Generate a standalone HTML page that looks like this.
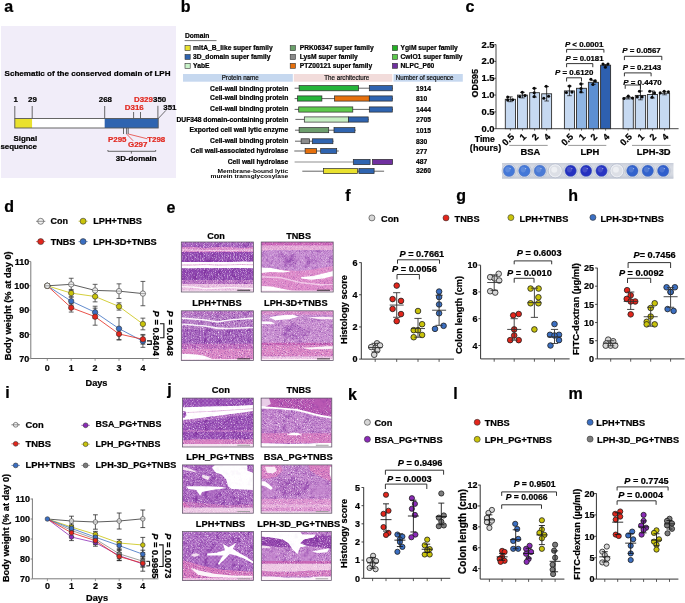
<!DOCTYPE html>
<html><head><meta charset="utf-8"><style>
html,body{margin:0;padding:0;background:#fff;width:685px;height:603px;overflow:hidden}
svg{display:block;will-change:transform;font-family:"Liberation Sans", sans-serif;font-weight:bold}
</style></head><body>
<svg width="685" height="603" viewBox="0 0 685 603">
<defs><filter id="speck" x="0" y="0" width="72" height="50" filterUnits="userSpaceOnUse" color-interpolation-filters="sRGB">
<feTurbulence type="fractalNoise" baseFrequency="1.0" numOctaves="2" seed="4" result="n"/>
<feTurbulence type="fractalNoise" baseFrequency="1.0" numOctaves="2" seed="11" result="n3"/>
<feTurbulence type="fractalNoise" baseFrequency="0.18" numOctaves="2" seed="9" result="n2"/>
<feColorMatrix in="n" type="matrix" values="0 0 0 0 1  0 0 0 0 0.96  0 0 0 0 1  2.6 0 0 0 -1.45" result="w"/>
<feColorMatrix in="n3" type="matrix" values="0 0 0 0 0.40  0 0 0 0 0.14  0 0 0 0 0.60  0 2.6 0 0 -1.35" result="dh"/>
<feColorMatrix in="n2" type="matrix" values="0 0 0 0 0.45  0 0 0 0 0.16  0 0 0 0 0.64  0 3.0 0 0 -1.55" result="d"/>
<feColorMatrix in="SourceGraphic" type="matrix" values="0 0 0 0 0  0 0 0 0 0  0 0 0 0 0  -6 0 6 0 0.05" result="mask"/>
<feColorMatrix in="SourceGraphic" type="matrix" values="0 0 0 0 0  0 0 0 0 0  0 0 0 0 0  -1 -1 -1 0 2.85" result="mask2"/>
<feComposite in="d" in2="mask" operator="in" result="d2"/>
<feComposite in="dh" in2="mask2" operator="in" result="dh2"/>
<feMerge result="m"><feMergeNode in="SourceGraphic"/><feMergeNode in="d2"/><feMergeNode in="dh2"/><feMergeNode in="w"/></feMerge>
<feColorMatrix in="m" type="hueRotate" values="6" result="m2"/>
<feComponentTransfer in="m2"><feFuncR type="linear" slope="0.97" intercept="0.03"/><feFuncG type="linear" slope="0.95" intercept="0.05"/><feFuncB type="linear" slope="0.97" intercept="0.03"/></feComponentTransfer>
</filter>
<pattern id="pdots" width="6" height="5" patternUnits="userSpaceOnUse">
<circle cx="1" cy="1" r="0.6" fill="#ffffff" opacity="0.45"/><circle cx="4" cy="3" r="0.5" fill="#ffffff" opacity="0.4"/><circle cx="2.5" cy="4" r="0.4" fill="#6a2a9a" opacity="0.3"/></pattern>
<pattern id="pdots2" width="4" height="4" patternUnits="userSpaceOnUse">
<circle cx="1" cy="1" r="0.7" fill="#ffffff" opacity="0.55"/><circle cx="3" cy="3" r="0.6" fill="#ffffff" opacity="0.5"/></pattern>
<pattern id="pcrypt" width="3" height="10" patternUnits="userSpaceOnUse">
<rect x="1" y="1" width="0.7" height="7" fill="#ffffff" opacity="0.25"/></pattern><linearGradient id="plategrad" x1="0" y1="0" x2="0" y2="1"><stop offset="0" stop-color="#bfc5d2" stop-opacity="0.6"/><stop offset="0.5" stop-color="#ffffff" stop-opacity="0"/><stop offset="1" stop-color="#aeb6c6" stop-opacity="0.6"/></linearGradient></defs>
<rect width="685" height="603" fill="#fff"/>
<text x="4.30" y="11.70" font-size="16" stroke="#000" stroke-width="0.22">a</text>
<text x="180.80" y="11.70" font-size="16" stroke="#000" stroke-width="0.22">b</text>
<text x="465.60" y="11.70" font-size="16" stroke="#000" stroke-width="0.22">c</text>
<text x="4.30" y="212.30" font-size="16" stroke="#000" stroke-width="0.22">d</text>
<text x="166.60" y="212.60" font-size="16" stroke="#000" stroke-width="0.22">e</text>
<text x="345.20" y="201.00" font-size="16" stroke="#000" stroke-width="0.22">f</text>
<text x="456.30" y="200.60" font-size="16" stroke="#000" stroke-width="0.22">g</text>
<text x="568.20" y="201.30" font-size="16" stroke="#000" stroke-width="0.22">h</text>
<text x="5.30" y="397.90" font-size="16" stroke="#000" stroke-width="0.22">i</text>
<text x="167.20" y="395.00" font-size="16" stroke="#000" stroke-width="0.22">j</text>
<text x="347.90" y="399.80" font-size="16" stroke="#000" stroke-width="0.22">k</text>
<text x="453.30" y="398.70" font-size="16" stroke="#000" stroke-width="0.22">l</text>
<text x="568.60" y="399.00" font-size="16" stroke="#000" stroke-width="0.22">m</text>
<rect x="1.00" y="26.00" width="175.00" height="152.00" fill="#f1edf9"/>
<text x="4.60" y="76.20" font-size="8.05" stroke="#000" stroke-width="0.22">Schematic of the conserved domain of LPH</text>
<text x="15.60" y="102.10" font-size="7.9" text-anchor="middle" stroke="#000" stroke-width="0.22">1</text>
<text x="32.40" y="102.10" font-size="7.9" text-anchor="middle" stroke="#000" stroke-width="0.22">29</text>
<text x="105.40" y="102.10" font-size="7.9" text-anchor="middle" stroke="#000" stroke-width="0.22">268</text>
<text x="134.00" y="102.10" font-size="7.9" fill="#e2281f" stroke="#e2281f" stroke-width="0.22">D329</text>
<text x="153.00" y="102.10" font-size="7.9" stroke="#000" stroke-width="0.22">350</text>
<text x="124.80" y="109.90" font-size="7.9" fill="#e2281f" stroke="#e2281f" stroke-width="0.22">D316</text>
<text x="163.30" y="109.80" font-size="7.9" stroke="#000" stroke-width="0.22">351</text>
<line x1="14.80" y1="106.00" x2="14.80" y2="118.50" stroke="#444" stroke-width="0.8"/>
<line x1="32.20" y1="106.00" x2="32.20" y2="118.50" stroke="#444" stroke-width="0.8"/>
<line x1="104.70" y1="106.00" x2="104.70" y2="118.50" stroke="#444" stroke-width="0.8"/>
<line x1="157.90" y1="105.80" x2="157.90" y2="118.50" stroke="#444" stroke-width="0.8"/>
<line x1="133.60" y1="112.00" x2="133.60" y2="118.50" stroke="#444" stroke-width="0.8"/>
<line x1="140.50" y1="112.00" x2="140.50" y2="118.50" stroke="#444" stroke-width="0.8"/>
<rect x="14.80" y="118.50" width="17.40" height="9.50" fill="#e9e12e"/>
<rect x="32.20" y="118.50" width="72.50" height="9.50" fill="#ffffff"/>
<rect x="104.70" y="118.50" width="53.50" height="9.50" fill="#2f64b0"/>
<rect x="14.80" y="118.50" width="143.40" height="9.50" fill="none" stroke="#555" stroke-width="0.9"/>
<line x1="158.20" y1="118.60" x2="166.00" y2="110.30" stroke="#333" stroke-width="0.7"/>
<line x1="123.50" y1="128.00" x2="123.50" y2="134.00" stroke="#444" stroke-width="0.8"/>
<line x1="126.60" y1="128.00" x2="126.60" y2="134.00" stroke="#444" stroke-width="0.8"/>
<line x1="128.20" y1="128.00" x2="128.20" y2="134.00" stroke="#444" stroke-width="0.8"/>
<line x1="126.60" y1="134.00" x2="133.20" y2="140.80" stroke="#e2281f" stroke-width="0.7"/>
<line x1="128.20" y1="134.00" x2="147.40" y2="138.80" stroke="#e2281f" stroke-width="0.7"/>
<text x="108.00" y="142.00" font-size="7.9" fill="#e2281f" stroke="#e2281f" stroke-width="0.22">P295</text>
<text x="128.00" y="147.40" font-size="7.9" fill="#e2281f" stroke="#e2281f" stroke-width="0.22">G297</text>
<text x="147.20" y="141.60" font-size="7.9" fill="#e2281f" stroke="#e2281f" stroke-width="0.22">T298</text>
<path d="M107.9,150.0 L107.9,151.3 L155.7,151.3 L155.7,150.0" stroke="#444" stroke-width="0.8" fill="none"/>
<line x1="131.40" y1="151.30" x2="131.40" y2="153.60" stroke="#444" stroke-width="0.8"/>
<text x="115.80" y="160.90" font-size="7.9" stroke="#000" stroke-width="0.22">3D-domain</text>
<text x="37.20" y="140.80" font-size="7.9" text-anchor="end" stroke="#000" stroke-width="0.22">Signal</text>
<text x="36.80" y="149.30" font-size="7.9" text-anchor="end" stroke="#000" stroke-width="0.22">sequence</text>
<text x="184.90" y="38.00" font-size="6.7" stroke="#000" stroke-width="0.22">Domain</text>
<line x1="184.60" y1="40.60" x2="216.50" y2="40.60" stroke="#666" stroke-width="0.9"/>
<rect x="185.00" y="45.60" width="5.20" height="5.00" fill="#e9e12e" stroke="#333" stroke-width="0.6"/>
<text x="193.10" y="50.40" font-size="6.7" stroke="#000" stroke-width="0.22">mltA_B_like super family</text>
<rect x="185.00" y="54.45" width="5.20" height="5.00" fill="#2f64b0" stroke="#333" stroke-width="0.6"/>
<text x="193.10" y="59.25" font-size="6.7" stroke="#000" stroke-width="0.22">3D_domain super family</text>
<rect x="185.00" y="63.30" width="5.20" height="5.00" fill="#c9f2c9" stroke="#333" stroke-width="0.6"/>
<text x="193.10" y="68.10" font-size="6.7" stroke="#000" stroke-width="0.22">YabE</text>
<rect x="290.20" y="45.60" width="5.20" height="5.00" fill="#6aa06a" stroke="#333" stroke-width="0.6"/>
<text x="299.70" y="50.40" font-size="6.7" stroke="#000" stroke-width="0.22">PRK06347 super family</text>
<rect x="290.20" y="54.45" width="5.20" height="5.00" fill="#8a8a8a" stroke="#333" stroke-width="0.6"/>
<text x="299.70" y="59.25" font-size="6.7" stroke="#000" stroke-width="0.22">LysM super family</text>
<rect x="290.20" y="63.30" width="5.20" height="5.00" fill="#e8700c" stroke="#333" stroke-width="0.6"/>
<text x="299.70" y="68.10" font-size="6.7" stroke="#000" stroke-width="0.22">PTZ00121 super family</text>
<rect x="392.40" y="45.60" width="5.20" height="5.00" fill="#23b023" stroke="#333" stroke-width="0.6"/>
<text x="400.50" y="50.40" font-size="6.7" stroke="#000" stroke-width="0.22">YgiM super family</text>
<rect x="392.40" y="54.45" width="5.20" height="5.00" fill="#5cc84c" stroke="#333" stroke-width="0.6"/>
<text x="400.50" y="59.25" font-size="6.7" stroke="#000" stroke-width="0.22">CwlO1 super family</text>
<rect x="392.40" y="63.30" width="5.20" height="5.00" fill="#7030a0" stroke="#333" stroke-width="0.6"/>
<text x="400.50" y="68.10" font-size="6.7" stroke="#000" stroke-width="0.22">NLPC_P60</text>
<rect x="183.00" y="74.00" width="109.80" height="7.70" fill="#c6d8ef"/>
<rect x="293.80" y="74.00" width="98.50" height="7.70" fill="#f2dcdb"/>
<rect x="393.50" y="74.00" width="69.30" height="7.70" fill="#c6d8ef"/>
<text x="221.70" y="79.70" font-size="6.9" fill="#111" font-weight="normal" textLength="37.0" lengthAdjust="spacingAndGlyphs" stroke="#111" stroke-width="0.22">Protein name</text>
<text x="324.30" y="79.70" font-size="6.9" fill="#111" font-weight="normal" textLength="45.0" lengthAdjust="spacingAndGlyphs" stroke="#111" stroke-width="0.22">The architecture</text>
<text x="395.80" y="79.90" font-size="6.9" fill="#111" font-weight="normal" textLength="57.6" lengthAdjust="spacingAndGlyphs" stroke="#111" stroke-width="0.22">Number of sequence</text>
<text x="288.30" y="90.50" font-size="6.74" text-anchor="end" stroke="#000" stroke-width="0.22">Cell-wall binding protein</text>
<text x="288.30" y="100.10" font-size="6.74" text-anchor="end" stroke="#000" stroke-width="0.22">Cell-wall binding protein</text>
<text x="288.30" y="111.20" font-size="6.74" text-anchor="end" stroke="#000" stroke-width="0.22">Cell-wall binding protein</text>
<text x="288.30" y="122.00" font-size="6.74" text-anchor="end" stroke="#000" stroke-width="0.22">DUF348 domain-containing protein</text>
<text x="288.30" y="132.40" font-size="6.74" text-anchor="end" stroke="#000" stroke-width="0.22">Exported cell wall lytic enzyme</text>
<text x="288.30" y="142.90" font-size="6.74" text-anchor="end" stroke="#000" stroke-width="0.22">Cell-wall binding protein</text>
<text x="288.30" y="153.00" font-size="6.74" text-anchor="end" stroke="#000" stroke-width="0.22">Cell wall-associated hydrolase</text>
<text x="288.30" y="163.50" font-size="6.74" text-anchor="end" stroke="#000" stroke-width="0.22">Cell wall hydrolase</text>
<g transform="translate(288.3,172.7) scale(1,0.86)"><text x="0" y="0" font-size="6.65" text-anchor="end">Membrane-bound lytic</text></g>
<g transform="translate(288.3,178.0) scale(1,0.86)"><text x="0" y="0" font-size="6.65" text-anchor="end">murein transglycosylase</text></g>
<text x="416.00" y="91.00" font-size="6.7" stroke="#000" stroke-width="0.22">1914</text>
<text x="416.00" y="100.90" font-size="6.7" stroke="#000" stroke-width="0.22">810</text>
<text x="416.00" y="111.70" font-size="6.7" stroke="#000" stroke-width="0.22">1444</text>
<text x="416.00" y="122.30" font-size="6.7" stroke="#000" stroke-width="0.22">2705</text>
<text x="416.00" y="132.50" font-size="6.7" stroke="#000" stroke-width="0.22">1015</text>
<text x="416.00" y="143.60" font-size="6.7" stroke="#000" stroke-width="0.22">830</text>
<text x="416.00" y="153.80" font-size="6.7" stroke="#000" stroke-width="0.22">277</text>
<text x="416.00" y="163.80" font-size="6.7" stroke="#000" stroke-width="0.22">487</text>
<text x="416.00" y="173.20" font-size="6.7" stroke="#000" stroke-width="0.22">3260</text>
<line x1="294.60" y1="88.20" x2="392.80" y2="88.20" stroke="#222" stroke-width="0.7"/>
<rect x="299.10" y="85.60" width="59.50" height="5.20" fill="#26b43a" stroke="#2a2a2a" stroke-width="0.7"/>
<rect x="369.30" y="85.60" width="23.00" height="5.20" fill="#2f64b0" stroke="#2a2a2a" stroke-width="0.7"/>
<line x1="294.60" y1="98.60" x2="392.80" y2="98.60" stroke="#222" stroke-width="0.7"/>
<rect x="297.50" y="95.90" width="24.40" height="5.20" fill="#26b43a" stroke="#2a2a2a" stroke-width="0.7"/>
<rect x="334.50" y="95.90" width="34.80" height="5.20" fill="#e6700c" stroke="#2a2a2a" stroke-width="0.7"/>
<rect x="369.30" y="95.90" width="23.00" height="5.20" fill="#2f64b0" stroke="#2a2a2a" stroke-width="0.7"/>
<line x1="294.60" y1="109.40" x2="392.80" y2="109.40" stroke="#222" stroke-width="0.7"/>
<rect x="298.70" y="106.90" width="54.10" height="5.20" fill="#5dc94c" stroke="#2a2a2a" stroke-width="0.7"/>
<rect x="369.30" y="106.90" width="23.00" height="5.20" fill="#2f64b0" stroke="#2a2a2a" stroke-width="0.7"/>
<line x1="295.40" y1="119.40" x2="368.60" y2="119.40" stroke="#222" stroke-width="0.7"/>
<rect x="304.30" y="116.90" width="44.10" height="5.20" fill="#c6efc4" stroke="#2a2a2a" stroke-width="0.7"/>
<rect x="348.40" y="116.90" width="19.80" height="5.20" fill="#2f64b0" stroke="#2a2a2a" stroke-width="0.7"/>
<line x1="295.00" y1="130.20" x2="355.80" y2="130.20" stroke="#222" stroke-width="0.7"/>
<rect x="299.10" y="127.60" width="29.60" height="5.10" fill="#6c9e6c" stroke="#2a2a2a" stroke-width="0.7"/>
<rect x="334.00" y="127.60" width="20.90" height="5.10" fill="#2f64b0" stroke="#2a2a2a" stroke-width="0.7"/>
<line x1="295.00" y1="141.20" x2="333.60" y2="141.20" stroke="#222" stroke-width="0.7"/>
<rect x="301.10" y="138.80" width="8.30" height="4.90" fill="#8c8c8c" stroke="#2a2a2a" stroke-width="0.7"/>
<rect x="312.30" y="138.80" width="20.60" height="4.90" fill="#2f64b0" stroke="#2a2a2a" stroke-width="0.7"/>
<line x1="294.30" y1="151.00" x2="338.80" y2="151.00" stroke="#222" stroke-width="0.7"/>
<rect x="305.10" y="148.60" width="11.50" height="4.90" fill="#e6700c" stroke="#2a2a2a" stroke-width="0.7"/>
<rect x="320.70" y="148.60" width="16.00" height="4.90" fill="#2f64b0" stroke="#2a2a2a" stroke-width="0.7"/>
<line x1="294.60" y1="162.00" x2="353.30" y2="162.00" stroke="#b4b4b4" stroke-width="1.3"/>
<rect x="353.30" y="159.40" width="16.80" height="5.20" fill="#2f64b0" stroke="#2a2a2a" stroke-width="0.7"/>
<rect x="372.50" y="159.40" width="20.10" height="5.20" fill="#7030a0" stroke="#2a2a2a" stroke-width="0.7"/>
<line x1="302.30" y1="171.20" x2="384.10" y2="171.20" stroke="#222" stroke-width="0.7"/>
<rect x="323.50" y="168.60" width="34.10" height="5.00" fill="#e9e12e" stroke="#2a2a2a" stroke-width="0.7"/>
<rect x="358.90" y="168.60" width="15.20" height="5.00" fill="#2f64b0" stroke="#2a2a2a" stroke-width="0.7"/>
<text x="474.80" y="83.30" font-size="9.0" text-anchor="middle" transform="rotate(-90 474.80 83.30)" stroke="#000" stroke-width="0.22" dominant-baseline="central">OD595</text>
<line x1="496.00" y1="44.40" x2="496.00" y2="128.70" stroke="#333" stroke-width="0.9"/>
<line x1="494.30" y1="44.60" x2="496.00" y2="44.60" stroke="#333" stroke-width="0.9"/>
<text x="494.60" y="47.50" font-size="9.4" text-anchor="end" stroke="#000" stroke-width="0.22">2.5</text>
<line x1="494.30" y1="61.42" x2="496.00" y2="61.42" stroke="#333" stroke-width="0.9"/>
<text x="494.60" y="64.32" font-size="9.4" text-anchor="end" stroke="#000" stroke-width="0.22">2.0</text>
<line x1="494.30" y1="78.24" x2="496.00" y2="78.24" stroke="#333" stroke-width="0.9"/>
<text x="494.60" y="81.14" font-size="9.4" text-anchor="end" stroke="#000" stroke-width="0.22">1.5</text>
<line x1="494.30" y1="95.06" x2="496.00" y2="95.06" stroke="#333" stroke-width="0.9"/>
<text x="494.60" y="97.96" font-size="9.4" text-anchor="end" stroke="#000" stroke-width="0.22">1.0</text>
<line x1="494.30" y1="111.88" x2="496.00" y2="111.88" stroke="#333" stroke-width="0.9"/>
<text x="494.60" y="114.78" font-size="9.4" text-anchor="end" stroke="#000" stroke-width="0.22">0.5</text>
<line x1="494.30" y1="128.70" x2="496.00" y2="128.70" stroke="#333" stroke-width="0.9"/>
<text x="494.60" y="131.60" font-size="9.4" text-anchor="end" stroke="#000" stroke-width="0.22">0.0</text>
<line x1="496.00" y1="128.70" x2="678.60" y2="128.70" stroke="#333" stroke-width="0.9"/>
<rect x="505.30" y="99.30" width="10.20" height="29.40" fill="#c6d9f1" stroke="#2e2e2e" stroke-width="0.9"/>
<line x1="510.40" y1="128.70" x2="510.40" y2="130.60" stroke="#333" stroke-width="0.8"/>
<line x1="510.40" y1="96.90" x2="510.40" y2="101.70" stroke="#111" stroke-width="0.8"/>
<line x1="508.10" y1="96.90" x2="512.70" y2="96.90" stroke="#111" stroke-width="0.8"/>
<line x1="508.10" y1="101.70" x2="512.70" y2="101.70" stroke="#111" stroke-width="0.7"/>
<circle cx="507.70" cy="97.10" r="1.55" fill="#0a0a0a"/>
<circle cx="507.70" cy="100.10" r="1.55" fill="#0a0a0a"/>
<circle cx="512.70" cy="99.70" r="1.55" fill="#0a0a0a"/>
<text x="512.80" y="135.20" font-size="9.2" text-anchor="end" transform="rotate(-45 512.80 135.20)" stroke="#000" stroke-width="0.22" dominant-baseline="central">0.5</text>
<rect x="517.50" y="95.10" width="9.90" height="33.60" fill="#c6d9f1" stroke="#2e2e2e" stroke-width="0.9"/>
<line x1="522.45" y1="128.70" x2="522.45" y2="130.60" stroke="#333" stroke-width="0.8"/>
<line x1="522.45" y1="92.30" x2="522.45" y2="97.90" stroke="#111" stroke-width="0.8"/>
<line x1="520.15" y1="92.30" x2="524.75" y2="92.30" stroke="#111" stroke-width="0.8"/>
<line x1="520.15" y1="97.90" x2="524.75" y2="97.90" stroke="#111" stroke-width="0.7"/>
<circle cx="522.30" cy="92.30" r="1.55" fill="#0a0a0a"/>
<circle cx="519.70" cy="96.60" r="1.55" fill="#0a0a0a"/>
<circle cx="525.00" cy="95.60" r="1.55" fill="#0a0a0a"/>
<text x="524.85" y="135.20" font-size="9.2" text-anchor="end" transform="rotate(-45 524.85 135.20)" stroke="#000" stroke-width="0.22" dominant-baseline="central">1</text>
<rect x="529.70" y="92.70" width="9.80" height="36.00" fill="#c6d9f1" stroke="#2e2e2e" stroke-width="0.9"/>
<line x1="534.60" y1="128.70" x2="534.60" y2="130.60" stroke="#333" stroke-width="0.8"/>
<line x1="534.60" y1="88.30" x2="534.60" y2="97.10" stroke="#111" stroke-width="0.8"/>
<line x1="532.30" y1="88.30" x2="536.90" y2="88.30" stroke="#111" stroke-width="0.8"/>
<line x1="532.30" y1="97.10" x2="536.90" y2="97.10" stroke="#111" stroke-width="0.7"/>
<circle cx="534.20" cy="88.30" r="1.55" fill="#0a0a0a"/>
<circle cx="534.20" cy="92.70" r="1.55" fill="#0a0a0a"/>
<circle cx="534.20" cy="96.60" r="1.55" fill="#0a0a0a"/>
<text x="537.00" y="135.20" font-size="9.2" text-anchor="end" transform="rotate(-45 537.00 135.20)" stroke="#000" stroke-width="0.22" dominant-baseline="central">2</text>
<rect x="541.70" y="93.80" width="9.90" height="34.90" fill="#c6d9f1" stroke="#2e2e2e" stroke-width="0.9"/>
<line x1="546.65" y1="128.70" x2="546.65" y2="130.60" stroke="#333" stroke-width="0.8"/>
<line x1="546.65" y1="86.60" x2="546.65" y2="101.00" stroke="#111" stroke-width="0.8"/>
<line x1="544.35" y1="86.60" x2="548.95" y2="86.60" stroke="#111" stroke-width="0.8"/>
<line x1="544.35" y1="101.00" x2="548.95" y2="101.00" stroke="#111" stroke-width="0.7"/>
<circle cx="546.20" cy="86.30" r="1.55" fill="#0a0a0a"/>
<circle cx="543.80" cy="98.20" r="1.55" fill="#0a0a0a"/>
<circle cx="548.60" cy="96.20" r="1.55" fill="#0a0a0a"/>
<text x="549.05" y="135.20" font-size="9.2" text-anchor="end" transform="rotate(-45 549.05 135.20)" stroke="#000" stroke-width="0.22" dominant-baseline="central">4</text>
<rect x="564.40" y="90.90" width="10.10" height="37.80" fill="#c6d9f1" stroke="#2e2e2e" stroke-width="0.9"/>
<line x1="569.45" y1="128.70" x2="569.45" y2="130.60" stroke="#333" stroke-width="0.8"/>
<line x1="569.45" y1="86.10" x2="569.45" y2="95.70" stroke="#111" stroke-width="0.8"/>
<line x1="567.15" y1="86.10" x2="571.75" y2="86.10" stroke="#111" stroke-width="0.8"/>
<line x1="567.15" y1="95.70" x2="571.75" y2="95.70" stroke="#111" stroke-width="0.7"/>
<circle cx="569.50" cy="86.10" r="1.55" fill="#0a0a0a"/>
<circle cx="566.40" cy="92.50" r="1.55" fill="#0a0a0a"/>
<circle cx="572.00" cy="92.10" r="1.55" fill="#0a0a0a"/>
<text x="571.85" y="135.20" font-size="9.2" text-anchor="end" transform="rotate(-45 571.85 135.20)" stroke="#000" stroke-width="0.22" dominant-baseline="central">0.5</text>
<rect x="576.50" y="88.30" width="10.00" height="40.40" fill="#8fb5e3" stroke="#2e2e2e" stroke-width="0.9"/>
<line x1="581.50" y1="128.70" x2="581.50" y2="130.60" stroke="#333" stroke-width="0.8"/>
<line x1="581.50" y1="83.90" x2="581.50" y2="92.70" stroke="#111" stroke-width="0.8"/>
<line x1="579.20" y1="83.90" x2="583.80" y2="83.90" stroke="#111" stroke-width="0.8"/>
<line x1="579.20" y1="92.70" x2="583.80" y2="92.70" stroke="#111" stroke-width="0.7"/>
<circle cx="581.00" cy="83.90" r="1.55" fill="#0a0a0a"/>
<circle cx="581.00" cy="88.50" r="1.55" fill="#0a0a0a"/>
<circle cx="581.00" cy="91.70" r="1.55" fill="#0a0a0a"/>
<text x="583.90" y="135.20" font-size="9.2" text-anchor="end" transform="rotate(-45 583.90 135.20)" stroke="#000" stroke-width="0.22" dominant-baseline="central">1</text>
<rect x="588.40" y="82.30" width="10.10" height="46.40" fill="#5d8fd2" stroke="#2e2e2e" stroke-width="0.9"/>
<line x1="593.45" y1="128.70" x2="593.45" y2="130.60" stroke="#333" stroke-width="0.8"/>
<line x1="593.45" y1="80.30" x2="593.45" y2="84.30" stroke="#111" stroke-width="0.8"/>
<line x1="591.15" y1="80.30" x2="595.75" y2="80.30" stroke="#111" stroke-width="0.8"/>
<line x1="591.15" y1="84.30" x2="595.75" y2="84.30" stroke="#111" stroke-width="0.7"/>
<circle cx="590.90" cy="79.30" r="1.55" fill="#0a0a0a"/>
<circle cx="595.30" cy="80.90" r="1.55" fill="#0a0a0a"/>
<circle cx="592.90" cy="84.50" r="1.55" fill="#0a0a0a"/>
<text x="595.85" y="135.20" font-size="9.2" text-anchor="end" transform="rotate(-45 595.85 135.20)" stroke="#000" stroke-width="0.22" dominant-baseline="central">2</text>
<rect x="600.60" y="65.20" width="10.00" height="63.50" fill="#2e60b0" stroke="#2e2e2e" stroke-width="0.9"/>
<line x1="605.60" y1="128.70" x2="605.60" y2="130.60" stroke="#333" stroke-width="0.8"/>
<line x1="605.60" y1="64.60" x2="605.60" y2="65.80" stroke="#111" stroke-width="0.8"/>
<line x1="603.30" y1="64.60" x2="607.90" y2="64.60" stroke="#111" stroke-width="0.8"/>
<line x1="603.30" y1="65.80" x2="607.90" y2="65.80" stroke="#111" stroke-width="0.7"/>
<circle cx="603.00" cy="64.00" r="1.55" fill="#0a0a0a"/>
<circle cx="608.00" cy="64.00" r="1.55" fill="#0a0a0a"/>
<circle cx="605.40" cy="67.20" r="1.55" fill="#0a0a0a"/>
<text x="608.00" y="135.20" font-size="9.2" text-anchor="end" transform="rotate(-45 608.00 135.20)" stroke="#000" stroke-width="0.22" dominant-baseline="central">4</text>
<rect x="623.10" y="97.80" width="10.20" height="30.90" fill="#c6d9f1" stroke="#2e2e2e" stroke-width="0.9"/>
<line x1="628.20" y1="128.70" x2="628.20" y2="130.60" stroke="#333" stroke-width="0.8"/>
<line x1="628.20" y1="96.60" x2="628.20" y2="99.00" stroke="#111" stroke-width="0.8"/>
<line x1="625.90" y1="96.60" x2="630.50" y2="96.60" stroke="#111" stroke-width="0.8"/>
<line x1="625.90" y1="99.00" x2="630.50" y2="99.00" stroke="#111" stroke-width="0.7"/>
<circle cx="624.00" cy="98.50" r="1.55" fill="#0a0a0a"/>
<circle cx="628.30" cy="96.10" r="1.55" fill="#0a0a0a"/>
<circle cx="632.50" cy="98.10" r="1.55" fill="#0a0a0a"/>
<text x="630.60" y="135.20" font-size="9.2" text-anchor="end" transform="rotate(-45 630.60 135.20)" stroke="#000" stroke-width="0.22" dominant-baseline="central">0.5</text>
<rect x="635.30" y="95.40" width="10.30" height="33.30" fill="#c6d9f1" stroke="#2e2e2e" stroke-width="0.9"/>
<line x1="640.45" y1="128.70" x2="640.45" y2="130.60" stroke="#333" stroke-width="0.8"/>
<line x1="640.45" y1="91.00" x2="640.45" y2="99.80" stroke="#111" stroke-width="0.8"/>
<line x1="638.15" y1="91.00" x2="642.75" y2="91.00" stroke="#111" stroke-width="0.8"/>
<line x1="638.15" y1="99.80" x2="642.75" y2="99.80" stroke="#111" stroke-width="0.7"/>
<circle cx="637.30" cy="96.90" r="1.55" fill="#0a0a0a"/>
<circle cx="639.50" cy="91.30" r="1.55" fill="#0a0a0a"/>
<circle cx="642.10" cy="96.90" r="1.55" fill="#0a0a0a"/>
<text x="642.85" y="135.20" font-size="9.2" text-anchor="end" transform="rotate(-45 642.85 135.20)" stroke="#000" stroke-width="0.22" dominant-baseline="central">1</text>
<rect x="647.40" y="94.50" width="10.10" height="34.20" fill="#c6d9f1" stroke="#2e2e2e" stroke-width="0.9"/>
<line x1="652.45" y1="128.70" x2="652.45" y2="130.60" stroke="#333" stroke-width="0.8"/>
<line x1="652.45" y1="91.00" x2="652.45" y2="98.00" stroke="#111" stroke-width="0.8"/>
<line x1="650.15" y1="91.00" x2="654.75" y2="91.00" stroke="#111" stroke-width="0.8"/>
<line x1="650.15" y1="98.00" x2="654.75" y2="98.00" stroke="#111" stroke-width="0.7"/>
<circle cx="649.70" cy="91.30" r="1.55" fill="#0a0a0a"/>
<circle cx="654.50" cy="92.90" r="1.55" fill="#0a0a0a"/>
<circle cx="652.10" cy="97.30" r="1.55" fill="#0a0a0a"/>
<text x="654.85" y="135.20" font-size="9.2" text-anchor="end" transform="rotate(-45 654.85 135.20)" stroke="#000" stroke-width="0.22" dominant-baseline="central">2</text>
<rect x="659.50" y="93.30" width="10.10" height="35.40" fill="#c6d9f1" stroke="#2e2e2e" stroke-width="0.9"/>
<line x1="664.55" y1="128.70" x2="664.55" y2="130.60" stroke="#333" stroke-width="0.8"/>
<line x1="664.55" y1="91.80" x2="664.55" y2="94.80" stroke="#111" stroke-width="0.8"/>
<line x1="662.25" y1="91.80" x2="666.85" y2="91.80" stroke="#111" stroke-width="0.8"/>
<line x1="662.25" y1="94.80" x2="666.85" y2="94.80" stroke="#111" stroke-width="0.7"/>
<circle cx="660.20" cy="92.90" r="1.55" fill="#0a0a0a"/>
<circle cx="664.20" cy="91.30" r="1.55" fill="#0a0a0a"/>
<circle cx="668.40" cy="91.70" r="1.55" fill="#0a0a0a"/>
<text x="666.95" y="135.20" font-size="9.2" text-anchor="end" transform="rotate(-45 666.95 135.20)" stroke="#000" stroke-width="0.22" dominant-baseline="central">4</text>
<text x="494.70" y="141.70" font-size="8.6" text-anchor="end" stroke="#000" stroke-width="0.22">Time</text>
<text x="501.20" y="150.50" font-size="9.1" text-anchor="end" stroke="#000" stroke-width="0.22">(hours)</text>
<line x1="509.20" y1="145.40" x2="547.70" y2="145.40" stroke="#9a9a9a" stroke-width="1.0"/>
<line x1="568.20" y1="145.40" x2="606.30" y2="145.40" stroke="#9a9a9a" stroke-width="1.0"/>
<line x1="632.00" y1="145.40" x2="670.60" y2="145.40" stroke="#9a9a9a" stroke-width="1.0"/>
<text x="530.50" y="154.50" font-size="9.4" text-anchor="middle" stroke="#000" stroke-width="0.22">BSA</text>
<text x="589.90" y="154.50" font-size="9.4" text-anchor="middle" stroke="#000" stroke-width="0.22">LPH</text>
<text x="653.70" y="154.50" font-size="9.4" text-anchor="middle" stroke="#000" stroke-width="0.22">LPH-3D</text>
<path d="M566.60,52.60 L566.60,49.40 L603.90,49.40 L603.90,52.60" stroke="#1e1e1e" stroke-width="0.9" fill="none"/>
<text x="564.90" y="47.40" font-size="7.9" stroke="#000" stroke-width="0.22"><tspan font-style="italic">P</tspan> &lt; 0.0001</text>
<path d="M566.60,67.20 L566.60,63.60 L592.80,63.60 L592.80,67.20" stroke="#1e1e1e" stroke-width="0.9" fill="none"/>
<text x="565.60" y="61.20" font-size="7.8" stroke="#000" stroke-width="0.22"><tspan font-style="italic">P</tspan> = 0.0181</text>
<path d="M566.60,81.50 L566.60,77.80 L581.50,77.80 L581.50,81.50" stroke="#1e1e1e" stroke-width="0.9" fill="none"/>
<text x="555.00" y="74.80" font-size="7.9" stroke="#000" stroke-width="0.22"><tspan font-style="italic">P</tspan> = 0.6120</text>
<path d="M624.40,60.10 L624.40,56.30 L661.80,56.30 L661.80,60.10" stroke="#1e1e1e" stroke-width="0.9" fill="none"/>
<text x="622.30" y="53.30" font-size="7.9" stroke="#000" stroke-width="0.22"><tspan font-style="italic">P</tspan> = 0.0567</text>
<path d="M624.40,76.30 L624.40,72.90 L651.10,72.90 L651.10,76.30" stroke="#1e1e1e" stroke-width="0.9" fill="none"/>
<text x="622.80" y="69.90" font-size="7.9" stroke="#000" stroke-width="0.22"><tspan font-style="italic">P</tspan> = 0.2143</text>
<path d="M625.20,88.80 L625.20,85.00 L640.45,85.00 L640.45,88.80" stroke="#1e1e1e" stroke-width="0.9" fill="none"/>
<line x1="640.45" y1="85.00" x2="640.45" y2="91.00" stroke="#222" stroke-width="0.8"/>
<text x="623.30" y="84.50" font-size="7.9" stroke="#000" stroke-width="0.22"><tspan font-style="italic">P</tspan> = 0.4470</text>
<rect x="502.00" y="163.00" width="171.40" height="15.60" fill="#d3d7e0"/>
<rect x="502" y="163" width="171.4" height="15.6" fill="url(#plategrad)"/>
<circle cx="509.00" cy="170.80" r="7.0" fill="#eef0f5" stroke="#aab2c4" stroke-width="0.6"/>
<circle cx="509.00" cy="170.80" r="5.8" fill="#4478d8" stroke="#5a78b8" stroke-width="0.5"/>
<ellipse cx="507.80" cy="169.60" rx="2.6" ry="2.8" fill="#ffffff" opacity="0.14"/>
<circle cx="510.20" cy="168.60" r="0.7" fill="#ffffff" opacity="0.5"/>
<circle cx="524.42" cy="170.80" r="7.0" fill="#eef0f5" stroke="#aab2c4" stroke-width="0.6"/>
<circle cx="524.42" cy="170.80" r="5.8" fill="#4478d8" stroke="#5a78b8" stroke-width="0.5"/>
<ellipse cx="523.22" cy="169.60" rx="2.6" ry="2.8" fill="#ffffff" opacity="0.14"/>
<circle cx="525.62" cy="168.60" r="0.7" fill="#ffffff" opacity="0.5"/>
<circle cx="539.84" cy="170.80" r="7.0" fill="#eef0f5" stroke="#aab2c4" stroke-width="0.6"/>
<circle cx="539.84" cy="170.80" r="5.8" fill="#4a7ad6" stroke="#5a78b8" stroke-width="0.5"/>
<ellipse cx="538.64" cy="169.60" rx="2.6" ry="2.8" fill="#ffffff" opacity="0.14"/>
<circle cx="541.04" cy="168.60" r="0.7" fill="#ffffff" opacity="0.5"/>
<circle cx="555.26" cy="170.80" r="7.0" fill="#eef0f5" stroke="#aab2c4" stroke-width="0.6"/>
<circle cx="555.26" cy="170.80" r="5.6" fill="#dcdfe6" stroke="none" stroke-width="0"/>
<ellipse cx="554.26" cy="169.8" rx="3" ry="3" fill="#f4f5f8" opacity="0.7"/>
<circle cx="570.68" cy="170.80" r="7.0" fill="#eef0f5" stroke="#aab2c4" stroke-width="0.6"/>
<circle cx="570.68" cy="170.80" r="5.8" fill="#2430bf" stroke="#5a78b8" stroke-width="0.5"/>
<ellipse cx="569.48" cy="169.60" rx="2.6" ry="2.8" fill="#ffffff" opacity="0.14"/>
<circle cx="571.88" cy="168.60" r="0.7" fill="#ffffff" opacity="0.5"/>
<circle cx="586.10" cy="170.80" r="7.0" fill="#eef0f5" stroke="#aab2c4" stroke-width="0.6"/>
<circle cx="586.10" cy="170.80" r="5.8" fill="#2430bf" stroke="#5a78b8" stroke-width="0.5"/>
<ellipse cx="584.90" cy="169.60" rx="2.6" ry="2.8" fill="#ffffff" opacity="0.14"/>
<circle cx="587.30" cy="168.60" r="0.7" fill="#ffffff" opacity="0.5"/>
<circle cx="601.52" cy="170.80" r="7.0" fill="#eef0f5" stroke="#aab2c4" stroke-width="0.6"/>
<circle cx="601.52" cy="170.80" r="5.8" fill="#2834c2" stroke="#5a78b8" stroke-width="0.5"/>
<ellipse cx="600.32" cy="169.60" rx="2.6" ry="2.8" fill="#ffffff" opacity="0.14"/>
<circle cx="602.72" cy="168.60" r="0.7" fill="#ffffff" opacity="0.5"/>
<circle cx="616.94" cy="170.80" r="7.0" fill="#eef0f5" stroke="#aab2c4" stroke-width="0.6"/>
<circle cx="616.94" cy="170.80" r="5.6" fill="#dcdfe6" stroke="none" stroke-width="0"/>
<ellipse cx="615.94" cy="169.8" rx="3" ry="3" fill="#f4f5f8" opacity="0.7"/>
<circle cx="632.36" cy="170.80" r="7.0" fill="#eef0f5" stroke="#aab2c4" stroke-width="0.6"/>
<circle cx="632.36" cy="170.80" r="5.8" fill="#3262cc" stroke="#5a78b8" stroke-width="0.5"/>
<ellipse cx="631.16" cy="169.60" rx="2.6" ry="2.8" fill="#ffffff" opacity="0.14"/>
<circle cx="633.56" cy="168.60" r="0.7" fill="#ffffff" opacity="0.5"/>
<circle cx="647.78" cy="170.80" r="7.0" fill="#eef0f5" stroke="#aab2c4" stroke-width="0.6"/>
<circle cx="647.78" cy="170.80" r="5.8" fill="#3262cc" stroke="#5a78b8" stroke-width="0.5"/>
<ellipse cx="646.58" cy="169.60" rx="2.6" ry="2.8" fill="#ffffff" opacity="0.14"/>
<circle cx="648.98" cy="168.60" r="0.7" fill="#ffffff" opacity="0.5"/>
<circle cx="663.20" cy="170.80" r="7.0" fill="#eef0f5" stroke="#aab2c4" stroke-width="0.6"/>
<circle cx="663.20" cy="170.80" r="5.8" fill="#2f5ecc" stroke="#5a78b8" stroke-width="0.5"/>
<ellipse cx="662.00" cy="169.60" rx="2.6" ry="2.8" fill="#ffffff" opacity="0.14"/>
<circle cx="664.40" cy="168.60" r="0.7" fill="#ffffff" opacity="0.5"/>
<line x1="36.10" y1="221.30" x2="45.30" y2="221.30" stroke="#555" stroke-width="0.7"/>
<circle cx="40.70" cy="221.30" r="3.0" fill="#f2f2f2" stroke="#555" stroke-width="0.7"/>
<line x1="37.70" y1="221.30" x2="43.70" y2="221.30" stroke="#555" stroke-width="0.6"/>
<text x="50.40" y="224.30" font-size="9.0" stroke="#000" stroke-width="0.22">Con</text>
<line x1="36.10" y1="241.60" x2="45.30" y2="241.60" stroke="#e3261c" stroke-width="0.7"/>
<circle cx="40.70" cy="241.60" r="3.0" fill="#e3261c" stroke="#333" stroke-width="0.6"/>
<text x="50.80" y="244.70" font-size="9.0" stroke="#000" stroke-width="0.22">TNBS</text>
<line x1="78.50" y1="221.20" x2="87.70" y2="221.20" stroke="#c9c30a" stroke-width="0.7"/>
<circle cx="83.10" cy="221.20" r="3.0" fill="#c9c30a" stroke="#333" stroke-width="0.6"/>
<text x="93.20" y="224.30" font-size="9.2" stroke="#000" stroke-width="0.22">LPH+TNBS</text>
<line x1="78.50" y1="241.60" x2="87.70" y2="241.60" stroke="#3b6fc2" stroke-width="0.7"/>
<circle cx="83.10" cy="241.60" r="3.0" fill="#3b6fc2" stroke="#333" stroke-width="0.6"/>
<text x="93.20" y="244.70" font-size="9.2" stroke="#000" stroke-width="0.22">LPH-3D+TNBS</text>
<line x1="30.80" y1="261.60" x2="30.80" y2="358.50" stroke="#7a7a7a" stroke-width="1.0"/>
<line x1="29.00" y1="261.48" x2="30.80" y2="261.48" stroke="#7a7a7a" stroke-width="0.9"/>
<text x="29.30" y="264.78" font-size="9.0" text-anchor="end" stroke="#000" stroke-width="0.22">110</text>
<line x1="29.00" y1="285.80" x2="30.80" y2="285.80" stroke="#7a7a7a" stroke-width="0.9"/>
<text x="29.30" y="289.10" font-size="9.0" text-anchor="end" stroke="#000" stroke-width="0.22">100</text>
<line x1="29.00" y1="310.12" x2="30.80" y2="310.12" stroke="#7a7a7a" stroke-width="0.9"/>
<text x="29.30" y="313.42" font-size="9.0" text-anchor="end" stroke="#000" stroke-width="0.22">90</text>
<line x1="29.00" y1="334.44" x2="30.80" y2="334.44" stroke="#7a7a7a" stroke-width="0.9"/>
<text x="29.30" y="337.74" font-size="9.0" text-anchor="end" stroke="#000" stroke-width="0.22">80</text>
<line x1="29.00" y1="358.76" x2="30.80" y2="358.76" stroke="#7a7a7a" stroke-width="0.9"/>
<text x="29.30" y="362.06" font-size="9.0" text-anchor="end" stroke="#000" stroke-width="0.22">70</text>
<line x1="30.80" y1="358.50" x2="158.80" y2="358.50" stroke="#7a7a7a" stroke-width="1.0"/>
<line x1="47.30" y1="358.50" x2="47.30" y2="360.80" stroke="#7a7a7a" stroke-width="0.8"/>
<text x="47.30" y="371.40" font-size="9.0" text-anchor="middle" stroke="#000" stroke-width="0.22">0</text>
<line x1="71.20" y1="358.50" x2="71.20" y2="360.80" stroke="#7a7a7a" stroke-width="0.8"/>
<text x="71.20" y="371.40" font-size="9.0" text-anchor="middle" stroke="#000" stroke-width="0.22">1</text>
<line x1="95.10" y1="358.50" x2="95.10" y2="360.80" stroke="#7a7a7a" stroke-width="0.8"/>
<text x="95.10" y="371.40" font-size="9.0" text-anchor="middle" stroke="#000" stroke-width="0.22">2</text>
<line x1="119.00" y1="358.50" x2="119.00" y2="360.80" stroke="#7a7a7a" stroke-width="0.8"/>
<text x="119.00" y="371.40" font-size="9.0" text-anchor="middle" stroke="#000" stroke-width="0.22">3</text>
<line x1="142.90" y1="358.50" x2="142.90" y2="360.80" stroke="#7a7a7a" stroke-width="0.8"/>
<text x="142.90" y="371.40" font-size="9.0" text-anchor="middle" stroke="#000" stroke-width="0.22">4</text>
<text x="96.50" y="385.50" font-size="9.2" text-anchor="middle" stroke="#000" stroke-width="0.22">Days</text>
<text x="8.20" y="305.80" font-size="9.25" text-anchor="middle" transform="rotate(-90 8.20 305.80)" stroke="#000" stroke-width="0.22" dominant-baseline="central">Body weight (% at day 0)</text>
<polyline points="47.30,285.80 71.20,301.12 95.10,312.31 119.00,328.60 142.90,341.25" fill="none" stroke="#3b6fc2" stroke-width="0.8"/>
<polyline points="47.30,285.80 71.20,307.69 95.10,316.69 119.00,333.95 142.90,339.30" fill="none" stroke="#e3261c" stroke-width="0.8"/>
<polyline points="47.30,285.80 71.20,293.10 95.10,296.50 119.00,306.47 142.90,323.98" fill="none" stroke="#c9c30a" stroke-width="0.8"/>
<polyline points="47.30,285.80 71.20,284.34 95.10,290.42 119.00,291.15 142.90,293.58" fill="none" stroke="#333" stroke-width="0.8"/>
<line x1="71.20" y1="297.23" x2="71.20" y2="305.01" stroke="#3a3a3a" stroke-width="0.8"/>
<line x1="68.80" y1="297.23" x2="73.60" y2="297.23" stroke="#3a3a3a" stroke-width="0.8"/>
<line x1="68.80" y1="305.01" x2="73.60" y2="305.01" stroke="#3a3a3a" stroke-width="0.8"/>
<line x1="95.10" y1="306.23" x2="95.10" y2="318.39" stroke="#3a3a3a" stroke-width="0.8"/>
<line x1="92.70" y1="306.23" x2="97.50" y2="306.23" stroke="#3a3a3a" stroke-width="0.8"/>
<line x1="92.70" y1="318.39" x2="97.50" y2="318.39" stroke="#3a3a3a" stroke-width="0.8"/>
<line x1="119.00" y1="317.66" x2="119.00" y2="339.55" stroke="#3a3a3a" stroke-width="0.8"/>
<line x1="116.60" y1="317.66" x2="121.40" y2="317.66" stroke="#3a3a3a" stroke-width="0.8"/>
<line x1="116.60" y1="339.55" x2="121.40" y2="339.55" stroke="#3a3a3a" stroke-width="0.8"/>
<line x1="142.90" y1="335.17" x2="142.90" y2="347.33" stroke="#3a3a3a" stroke-width="0.8"/>
<line x1="140.50" y1="335.17" x2="145.30" y2="335.17" stroke="#3a3a3a" stroke-width="0.8"/>
<line x1="140.50" y1="347.33" x2="145.30" y2="347.33" stroke="#3a3a3a" stroke-width="0.8"/>
<line x1="71.20" y1="303.31" x2="71.20" y2="312.07" stroke="#3a3a3a" stroke-width="0.8"/>
<line x1="68.80" y1="303.31" x2="73.60" y2="303.31" stroke="#3a3a3a" stroke-width="0.8"/>
<line x1="68.80" y1="312.07" x2="73.60" y2="312.07" stroke="#3a3a3a" stroke-width="0.8"/>
<line x1="95.10" y1="308.17" x2="95.10" y2="325.20" stroke="#3a3a3a" stroke-width="0.8"/>
<line x1="92.70" y1="308.17" x2="97.50" y2="308.17" stroke="#3a3a3a" stroke-width="0.8"/>
<line x1="92.70" y1="325.20" x2="97.50" y2="325.20" stroke="#3a3a3a" stroke-width="0.8"/>
<line x1="119.00" y1="327.87" x2="119.00" y2="340.03" stroke="#3a3a3a" stroke-width="0.8"/>
<line x1="116.60" y1="327.87" x2="121.40" y2="327.87" stroke="#3a3a3a" stroke-width="0.8"/>
<line x1="116.60" y1="340.03" x2="121.40" y2="340.03" stroke="#3a3a3a" stroke-width="0.8"/>
<line x1="142.90" y1="334.44" x2="142.90" y2="344.17" stroke="#3a3a3a" stroke-width="0.8"/>
<line x1="140.50" y1="334.44" x2="145.30" y2="334.44" stroke="#3a3a3a" stroke-width="0.8"/>
<line x1="140.50" y1="344.17" x2="145.30" y2="344.17" stroke="#3a3a3a" stroke-width="0.8"/>
<line x1="71.20" y1="289.45" x2="71.20" y2="296.74" stroke="#3a3a3a" stroke-width="0.8"/>
<line x1="68.80" y1="289.45" x2="73.60" y2="289.45" stroke="#3a3a3a" stroke-width="0.8"/>
<line x1="68.80" y1="296.74" x2="73.60" y2="296.74" stroke="#3a3a3a" stroke-width="0.8"/>
<line x1="95.10" y1="291.15" x2="95.10" y2="301.85" stroke="#3a3a3a" stroke-width="0.8"/>
<line x1="92.70" y1="291.15" x2="97.50" y2="291.15" stroke="#3a3a3a" stroke-width="0.8"/>
<line x1="92.70" y1="301.85" x2="97.50" y2="301.85" stroke="#3a3a3a" stroke-width="0.8"/>
<line x1="119.00" y1="302.82" x2="119.00" y2="310.12" stroke="#3a3a3a" stroke-width="0.8"/>
<line x1="116.60" y1="302.82" x2="121.40" y2="302.82" stroke="#3a3a3a" stroke-width="0.8"/>
<line x1="116.60" y1="310.12" x2="121.40" y2="310.12" stroke="#3a3a3a" stroke-width="0.8"/>
<line x1="142.90" y1="318.15" x2="142.90" y2="329.82" stroke="#3a3a3a" stroke-width="0.8"/>
<line x1="140.50" y1="318.15" x2="145.30" y2="318.15" stroke="#3a3a3a" stroke-width="0.8"/>
<line x1="140.50" y1="329.82" x2="145.30" y2="329.82" stroke="#3a3a3a" stroke-width="0.8"/>
<line x1="71.20" y1="278.26" x2="71.20" y2="290.42" stroke="#3a3a3a" stroke-width="0.8"/>
<line x1="68.80" y1="278.26" x2="73.60" y2="278.26" stroke="#3a3a3a" stroke-width="0.8"/>
<line x1="68.80" y1="290.42" x2="73.60" y2="290.42" stroke="#3a3a3a" stroke-width="0.8"/>
<line x1="95.10" y1="284.34" x2="95.10" y2="296.50" stroke="#3a3a3a" stroke-width="0.8"/>
<line x1="92.70" y1="284.34" x2="97.50" y2="284.34" stroke="#3a3a3a" stroke-width="0.8"/>
<line x1="92.70" y1="296.50" x2="97.50" y2="296.50" stroke="#3a3a3a" stroke-width="0.8"/>
<line x1="119.00" y1="283.85" x2="119.00" y2="298.45" stroke="#3a3a3a" stroke-width="0.8"/>
<line x1="116.60" y1="283.85" x2="121.40" y2="283.85" stroke="#3a3a3a" stroke-width="0.8"/>
<line x1="116.60" y1="298.45" x2="121.40" y2="298.45" stroke="#3a3a3a" stroke-width="0.8"/>
<line x1="142.90" y1="281.42" x2="142.90" y2="305.74" stroke="#3a3a3a" stroke-width="0.8"/>
<line x1="140.50" y1="281.42" x2="145.30" y2="281.42" stroke="#3a3a3a" stroke-width="0.8"/>
<line x1="140.50" y1="305.74" x2="145.30" y2="305.74" stroke="#3a3a3a" stroke-width="0.8"/>
<circle cx="47.30" cy="285.80" r="2.7" fill="#3b6fc2" stroke="#333" stroke-width="0.6"/>
<circle cx="71.20" cy="301.12" r="2.7" fill="#3b6fc2" stroke="#333" stroke-width="0.6"/>
<circle cx="95.10" cy="312.31" r="2.7" fill="#3b6fc2" stroke="#333" stroke-width="0.6"/>
<circle cx="119.00" cy="328.60" r="2.7" fill="#3b6fc2" stroke="#333" stroke-width="0.6"/>
<circle cx="142.90" cy="341.25" r="2.7" fill="#3b6fc2" stroke="#333" stroke-width="0.6"/>
<circle cx="47.30" cy="285.80" r="2.7" fill="#e3261c" stroke="#333" stroke-width="0.6"/>
<circle cx="71.20" cy="307.69" r="2.7" fill="#e3261c" stroke="#333" stroke-width="0.6"/>
<circle cx="95.10" cy="316.69" r="2.7" fill="#e3261c" stroke="#333" stroke-width="0.6"/>
<circle cx="119.00" cy="333.95" r="2.7" fill="#e3261c" stroke="#333" stroke-width="0.6"/>
<circle cx="142.90" cy="339.30" r="2.7" fill="#e3261c" stroke="#333" stroke-width="0.6"/>
<circle cx="47.30" cy="285.80" r="2.7" fill="#c9c30a" stroke="#333" stroke-width="0.6"/>
<circle cx="71.20" cy="293.10" r="2.7" fill="#c9c30a" stroke="#333" stroke-width="0.6"/>
<circle cx="95.10" cy="296.50" r="2.7" fill="#c9c30a" stroke="#333" stroke-width="0.6"/>
<circle cx="119.00" cy="306.47" r="2.7" fill="#c9c30a" stroke="#333" stroke-width="0.6"/>
<circle cx="142.90" cy="323.98" r="2.7" fill="#c9c30a" stroke="#333" stroke-width="0.6"/>
<circle cx="47.30" cy="285.80" r="2.7" fill="#efefef" stroke="#555" stroke-width="0.7"/>
<line x1="44.60" y1="285.80" x2="50.00" y2="285.80" stroke="#555" stroke-width="0.5"/>
<circle cx="71.20" cy="284.34" r="2.7" fill="#efefef" stroke="#555" stroke-width="0.7"/>
<line x1="68.50" y1="284.34" x2="73.90" y2="284.34" stroke="#555" stroke-width="0.5"/>
<circle cx="95.10" cy="290.42" r="2.7" fill="#efefef" stroke="#555" stroke-width="0.7"/>
<line x1="92.40" y1="290.42" x2="97.80" y2="290.42" stroke="#555" stroke-width="0.5"/>
<circle cx="119.00" cy="291.15" r="2.7" fill="#efefef" stroke="#555" stroke-width="0.7"/>
<line x1="116.30" y1="291.15" x2="121.70" y2="291.15" stroke="#555" stroke-width="0.5"/>
<circle cx="142.90" cy="293.58" r="2.7" fill="#efefef" stroke="#555" stroke-width="0.7"/>
<line x1="140.20" y1="293.58" x2="145.60" y2="293.58" stroke="#555" stroke-width="0.5"/>
<text x="170.00" y="310.60" font-size="9.3" transform="rotate(90 170.00 310.60)" stroke="#000" stroke-width="0.22" dominant-baseline="central"><tspan font-style="italic">P</tspan> = 0.0048</text>
<text x="156.30" y="310.60" font-size="9.3" transform="rotate(90 156.30 310.60)" stroke="#000" stroke-width="0.22" dominant-baseline="central"><tspan font-style="italic">P</tspan> = 0.8404</text>
<path d="M160.0,323.8 L163.9,323.8 L163.9,337.7 L160.0,337.7" stroke="#111" stroke-width="1.1" fill="none"/>
<path d="M147.0,340.8 L151.3,340.8 L151.3,344.4 L147.0,344.4" stroke="#111" stroke-width="1.2" fill="none"/>
<text x="216.10" y="239.40" font-size="9.1" text-anchor="middle" stroke="#000" stroke-width="0.22">Con</text>
<text x="298.60" y="239.40" font-size="9.1" text-anchor="middle" stroke="#000" stroke-width="0.22">TNBS</text>
<text x="217.00" y="306.20" font-size="9.3" text-anchor="middle" stroke="#000" stroke-width="0.22">LPH+TNBS</text>
<text x="295.80" y="306.20" font-size="9.2" text-anchor="middle" stroke="#000" stroke-width="0.22">LPH-3D+TNBS</text>
<clipPath id="hc1"><rect x="0" y="0" width="72" height="50"/></clipPath>
<g transform="translate(181.30,242.00) scale(1.0028,1.0000)" clip-path="url(#hc1)"><g filter="url(#speck)">
<rect x="0" y="0" width="72" height="50" fill="#a262c6"/>
<rect x="0" y="0" width="72" height="50" fill="url(#pdots)"/>
<path d="M0.0,5.0 L12.0,5.0 L24.0,6.0 L36.0,5.0 L48.0,5.0 L60.0,6.0 L72.0,5.0 L72.0,10.0 L60.0,10.0 L48.0,10.0 L36.0,10.0 L24.0,10.5 L12.0,10.0 L0.0,10.0 Z" fill="#d88ad0"/>
<path d="M0.0,7.5 L12.0,7.8 L24.0,8.0 L36.0,8.2 L48.0,8.0 L60.0,7.8 L72.0,7.6 L72.0,8.4 L60.0,8.6 L48.0,8.8 L36.0,9.0 L24.0,8.8 L12.0,8.6 L0.0,8.3 Z" fill="#f2d8ef"/>
<path d="M0.0,10.0 L12.0,10.0 L24.0,10.5 L36.0,10.0 L48.0,10.0 L60.0,10.0 L72.0,10.0 L72.0,19.5 L60.0,19.5 L48.0,20.0 L36.0,20.0 L24.0,20.0 L12.0,20.0 L0.0,20.0 Z" fill="#8642b6"/><path d="M0.0,10.0 L12.0,10.0 L24.0,10.5 L36.0,10.0 L48.0,10.0 L60.0,10.0 L72.0,10.0 L72.0,19.5 L60.0,19.5 L48.0,20.0 L36.0,20.0 L24.0,20.0 L12.0,20.0 L0.0,20.0 Z" fill="url(#pcrypt)"/>
<path d="M0.0,20.0 L12.0,20.0 L24.0,20.0 L36.0,20.0 L48.0,20.0 L60.0,19.5 L72.0,19.5 L72.0,26.5 L60.0,26.0 L48.0,26.0 L36.0,26.2 L24.0,26.2 L12.0,26.5 L0.0,26.5 Z" fill="#ffffff"/>
<path d="M0.0,22.6 L12.0,22.6 L24.0,22.3 L36.0,22.6 L48.0,22.4 L60.0,22.2 L72.0,22.4 L72.0,23.2 L60.0,23.0 L48.0,23.2 L36.0,23.4 L24.0,23.1 L12.0,23.4 L0.0,23.4 Z" fill="#e0a0d8"/>
<path d="M0.0,26.5 L12.0,26.5 L24.0,26.2 L36.0,26.2 L48.0,26.0 L60.0,26.0 L72.0,26.5 L72.0,38.0 L60.0,38.0 L48.0,38.0 L36.0,38.0 L24.0,38.0 L12.0,38.0 L0.0,38.0 Z" fill="#8440b4"/><path d="M0.0,26.5 L12.0,26.5 L24.0,26.2 L36.0,26.2 L48.0,26.0 L60.0,26.0 L72.0,26.5 L72.0,38.0 L60.0,38.0 L48.0,38.0 L36.0,38.0 L24.0,38.0 L12.0,38.0 L0.0,38.0 Z" fill="url(#pcrypt)"/>
<path d="M0.0,38.0 L12.0,38.0 L24.0,38.0 L36.0,38.0 L48.0,38.0 L60.0,38.0 L72.0,38.0 L72.0,42.0 L60.0,42.0 L48.0,42.0 L36.0,42.0 L24.0,42.0 L12.0,42.0 L0.0,42.0 Z" fill="#b472c8"/>
<path d="M0.0,42.0 L12.0,42.0 L24.0,42.0 L36.0,42.0 L48.0,42.0 L60.0,42.0 L72.0,42.0 L72.0,50.0 L60.0,50.0 L48.0,50.0 L36.0,50.0 L24.0,50.0 L12.0,50.0 L0.0,50.0 Z" fill="#e8bce4"/><path d="M0.0,42.0 L12.0,42.0 L24.0,42.0 L36.0,42.0 L48.0,42.0 L60.0,42.0 L72.0,42.0 L72.0,50.0 L60.0,50.0 L48.0,50.0 L36.0,50.0 L24.0,50.0 L12.0,50.0 L0.0,50.0 Z" fill="url(#pdots)"/>
<path d="M0.0,44.0 L12.0,44.5 L24.0,46.0 L36.0,45.5 L48.0,45.0 L60.0,45.5 L72.0,46.0 L72.0,47.2 L60.0,46.7 L48.0,46.2 L36.0,46.7 L24.0,47.2 L12.0,45.7 L0.0,45.2 Z" fill="#ffffff" opacity="0.85"/>
<path d="M0.0,48.5 L12.0,48.5 L24.0,48.5 L36.0,48.5 L48.0,48.5 L60.0,48.5 L72.0,48.5 L72.0,50.0 L60.0,50.0 L48.0,50.0 L36.0,50.0 L24.0,50.0 L12.0,50.0 L0.0,50.0 Z" fill="#f6e6f4"/>
</g></g>
<line x1="237.26" y1="290.25" x2="250.25" y2="290.25" stroke="#222" stroke-width="0.9"/>
<rect x="181.30" y="242.00" width="72.20" height="50.00" fill="none" stroke="#5e5266" stroke-width="0.75"/>
<clipPath id="hc2"><rect x="0" y="0" width="72" height="50"/></clipPath>
<g transform="translate(261.20,242.00) scale(1.0000,1.0000)" clip-path="url(#hc2)"><g filter="url(#speck)">
<rect x="0" y="0" width="72" height="50" fill="#da88d0"/>
<path d="M0,34 L20,35 L40,40 L60,42 L72,42 L72,43 L60,43.5 L40,41.5 L20,36.5 L0,35.5 Z" fill="#f0c8ec"/>
<path d="M0.0,0.0 L12.0,0.0 L24.0,0.0 L36.0,0.0 L48.0,0.0 L60.0,0.0 L72.0,0.0 L72.0,3.5 L60.0,3.5 L48.0,3.5 L36.0,3.5 L24.0,3.5 L12.0,3.5 L0.0,3.5 Z" fill="#c862c0"/>
<path d="M0.0,3.5 L12.0,3.5 L24.0,3.5 L36.0,3.5 L48.0,3.5 L60.0,3.5 L72.0,3.5 L72.0,8.0 L60.0,8.0 L48.0,8.0 L36.0,8.0 L24.0,8.0 L12.0,8.0 L0.0,8.5 Z" fill="#e2a8dc"/>
<path d="M0.0,8.5 L12.0,8.0 L24.0,8.0 L36.0,8.0 L48.0,8.0 L60.0,8.0 L72.0,8.0 L72.0,24.0 L60.0,26.0 L48.0,28.0 L36.0,29.0 L24.0,28.0 L12.0,27.0 L0.0,26.0 Z" fill="#c18ad6"/><path d="M0.0,8.5 L12.0,8.0 L24.0,8.0 L36.0,8.0 L48.0,8.0 L60.0,8.0 L72.0,8.0 L72.0,24.0 L60.0,26.0 L48.0,28.0 L36.0,29.0 L24.0,28.0 L12.0,27.0 L0.0,26.0 Z" fill="url(#pdots)"/>
<path d="M20,12 L30,13 L36,18 L34,24 L26,25 L22,20 Z" fill="#9e5cc2" opacity="0.45"/>
<path d="M42,14 L52,12 L58,16 L54,22 L46,21 Z" fill="#a868c8" opacity="0.35"/>
<path d="M0,25.5 L10,26 L20,28 L30,29.5 L22,30.5 L10,30 L0,31 Z" fill="#ffffff"/>
<path d="M40,35 L52,34 L62,31.5 L72,29 L72,34 L62,36.5 L50,37.8 L40,36.5 Z" fill="#ffffff"/>
<path d="M0,44 L10,44.5 L20,46.5 L30,48.5 L40,50 L0,50 Z" fill="#ffffff"/>
<path d="M0.0,48.5 L12.0,48.5 L24.0,48.5 L36.0,48.5 L48.0,48.5 L60.0,48.5 L72.0,48.5 L72.0,50.0 L60.0,50.0 L48.0,50.0 L36.0,50.0 L24.0,50.0 L12.0,50.0 L0.0,50.0 Z" fill="#f3dcf0"/>
</g></g>
<line x1="317.00" y1="290.25" x2="329.96" y2="290.25" stroke="#222" stroke-width="0.9"/>
<rect x="261.20" y="242.00" width="72.00" height="50.00" fill="none" stroke="#5e5266" stroke-width="0.75"/>
<clipPath id="hc3"><rect x="0" y="0" width="72" height="50"/></clipPath>
<g transform="translate(181.30,310.80) scale(1.0028,0.9960)" clip-path="url(#hc3)"><g filter="url(#speck)">
<rect x="0" y="0" width="72" height="50" fill="#b07aca"/>
<rect x="0" y="0" width="72" height="50" fill="url(#pdots)"/>
<path d="M0.0,0.0 L12.0,0.0 L24.0,0.0 L36.0,0.0 L48.0,0.0 L60.0,0.0 L72.0,0.0 L72.0,4.0 L60.0,4.0 L48.0,4.0 L36.0,4.0 L24.0,4.0 L12.0,4.0 L0.0,4.0 Z" fill="#b678cc"/>
<path d="M0.0,6.5 L12.0,7.5 L24.0,8.5 L36.0,10.5 L48.0,8.5 L60.0,7.5 L72.0,6.5 L72.0,8.3 L60.0,9.0 L48.0,10.0 L36.0,12.0 L24.0,10.0 L12.0,9.0 L0.0,8.3 Z" fill="#ffffff" opacity="0.95"/>
<path d="M0.0,12.5 L12.0,13.5 L24.0,14.5 L36.0,16.5 L48.0,17.0 L60.0,16.5 L72.0,16.0 L72.0,17.5 L60.0,18.0 L48.0,18.5 L36.0,18.5 L24.0,16.0 L12.0,15.0 L0.0,14.0 Z" fill="#ffffff" opacity="0.9"/>
<path d="M0.0,18.5 L12.0,19.0 L24.0,19.0 L36.0,19.5 L48.0,19.5 L60.0,19.0 L72.0,18.5 L72.0,33.0 L60.0,33.0 L48.0,33.0 L36.0,33.0 L24.0,33.0 L12.0,33.0 L0.0,33.0 Z" fill="#9a5cc0"/><path d="M0.0,18.5 L12.0,19.0 L24.0,19.0 L36.0,19.5 L48.0,19.5 L60.0,19.0 L72.0,18.5 L72.0,33.0 L60.0,33.0 L48.0,33.0 L36.0,33.0 L24.0,33.0 L12.0,33.0 L0.0,33.0 Z" fill="url(#pcrypt)"/>
<path d="M0.0,33.0 L12.0,33.0 L24.0,33.0 L36.0,33.0 L48.0,33.0 L60.0,33.0 L72.0,33.0 L72.0,38.0 L60.0,38.0 L48.0,38.0 L36.0,38.0 L24.0,38.0 L12.0,38.0 L0.0,38.0 Z" fill="#c070c8"/>
<path d="M0.0,38.0 L12.0,38.0 L24.0,38.0 L36.0,38.0 L48.0,38.0 L60.0,38.0 L72.0,38.0 L72.0,50.0 L60.0,50.0 L48.0,50.0 L36.0,50.0 L24.0,50.0 L12.0,50.0 L0.0,50.0 Z" fill="#d684cc"/>
<path d="M0,43 L12,43.5 L22,45 L30,48 L34,50 L0,50 Z" fill="#ffffff"/>
<path d="M0.0,48.5 L12.0,48.5 L24.0,48.5 L36.0,48.5 L48.0,48.5 L60.0,48.5 L72.0,48.5 L72.0,50.0 L60.0,50.0 L48.0,50.0 L36.0,50.0 L24.0,50.0 L12.0,50.0 L0.0,50.0 Z" fill="#f3dcf0"/>
</g></g>
<line x1="237.26" y1="358.86" x2="250.25" y2="358.86" stroke="#222" stroke-width="0.9"/>
<rect x="181.30" y="310.80" width="72.20" height="49.80" fill="none" stroke="#5e5266" stroke-width="0.75"/>
<clipPath id="hc4"><rect x="0" y="0" width="72" height="50"/></clipPath>
<g transform="translate(261.20,310.80) scale(1.0000,0.9960)" clip-path="url(#hc4)"><g filter="url(#speck)">
<rect x="0" y="0" width="72" height="50" fill="#c58ed6"/>
<rect x="0" y="0" width="72" height="50" fill="url(#pdots)"/>
<path d="M0.0,0.0 L12.0,0.0 L24.0,0.0 L36.0,0.0 L48.0,0.0 L60.0,0.0 L72.0,0.0 L72.0,4.0 L60.0,4.0 L48.0,4.0 L36.0,4.0 L24.0,4.0 L12.0,4.0 L0.0,4.0 Z" fill="#d68ad0"/>
<path d="M8,6.5 L20,4.5 L32,4 L38,6 L28,8.5 L14,9.5 Z" fill="#ffffff"/>
<path d="M0,10.5 L10,11 L14,13 L0,13.5 Z" fill="#ffffff"/>
<path d="M46,6.5 L60,6 L72,6.5 L72,8.5 L58,8.5 Z" fill="#fbeff9"/>
<path d="M22,15 L36,14 L46,20 L42,28 L28,29 L20,24 Z" fill="#9c5ac0" opacity="0.45"/>
<path d="M0.0,32.0 L12.0,32.0 L24.0,32.0 L36.0,32.0 L48.0,32.0 L60.0,32.0 L72.0,32.0 L72.0,34.5 L60.0,34.5 L48.0,34.5 L36.0,34.5 L24.0,34.5 L12.0,34.5 L0.0,34.5 Z" fill="#c460bc"/>
<path d="M0.0,34.5 L12.0,34.5 L24.0,34.5 L36.0,34.5 L48.0,34.5 L60.0,34.5 L72.0,34.5 L72.0,46.0 L60.0,46.0 L48.0,46.0 L36.0,46.0 L24.0,46.0 L12.0,46.0 L0.0,46.0 Z" fill="#d884cc"/>
<path d="M40,37 L52,36.5 L64,35.5 L72,35.5 L72,38 L60,38.5 L48,38.5 Z" fill="#ffffff" opacity="0.9"/>
<path d="M0.0,46.0 L12.0,46.0 L24.0,46.0 L36.0,46.0 L48.0,46.0 L60.0,46.0 L72.0,46.0 L72.0,50.0 L60.0,50.0 L48.0,50.0 L36.0,50.0 L24.0,50.0 L12.0,50.0 L0.0,50.0 Z" fill="#ecc6e8"/>
<path d="M0.0,48.5 L12.0,48.5 L24.0,48.5 L36.0,48.5 L48.0,48.5 L60.0,48.5 L72.0,48.5 L72.0,50.0 L60.0,50.0 L48.0,50.0 L36.0,50.0 L24.0,50.0 L12.0,50.0 L0.0,50.0 Z" fill="#faf0f8"/>
</g></g>
<line x1="317.00" y1="358.86" x2="329.96" y2="358.86" stroke="#222" stroke-width="0.9"/>
<rect x="261.20" y="310.80" width="72.00" height="49.80" fill="none" stroke="#5e5266" stroke-width="0.75"/>
<circle cx="371.90" cy="217.90" r="3.0" fill="#d6d6d6" stroke="#333" stroke-width="0.6"/>
<text x="381.00" y="221.90" font-size="9.2" stroke="#000" stroke-width="0.22">Con</text>
<circle cx="446.00" cy="217.90" r="3.0" fill="#e3261c" stroke="#333" stroke-width="0.6"/>
<text x="454.60" y="221.90" font-size="9.2" stroke="#000" stroke-width="0.22">TNBS</text>
<circle cx="510.90" cy="217.60" r="3.0" fill="#c9c30a" stroke="#333" stroke-width="0.6"/>
<text x="519.60" y="221.90" font-size="9.2" stroke="#000" stroke-width="0.22">LPH+TNBS</text>
<circle cx="592.90" cy="217.40" r="3.0" fill="#3b6fc2" stroke="#333" stroke-width="0.6"/>
<text x="600.40" y="221.90" font-size="9.2" stroke="#000" stroke-width="0.22">LPH-3D+TNBS</text>
<line x1="361.30" y1="262.40" x2="361.30" y2="359.10" stroke="#333" stroke-width="1.0"/>
<line x1="359.10" y1="262.62" x2="361.30" y2="262.62" stroke="#333" stroke-width="0.9"/>
<text x="357.50" y="265.92" font-size="9.0" text-anchor="end" stroke="#000" stroke-width="0.22">6</text>
<line x1="359.10" y1="294.78" x2="361.30" y2="294.78" stroke="#333" stroke-width="0.9"/>
<text x="357.50" y="298.08" font-size="9.0" text-anchor="end" stroke="#000" stroke-width="0.22">4</text>
<line x1="359.10" y1="326.94" x2="361.30" y2="326.94" stroke="#333" stroke-width="0.9"/>
<text x="357.50" y="330.24" font-size="9.0" text-anchor="end" stroke="#000" stroke-width="0.22">2</text>
<line x1="359.10" y1="359.10" x2="361.30" y2="359.10" stroke="#333" stroke-width="0.9"/>
<text x="357.50" y="362.40" font-size="9.0" text-anchor="end" stroke="#000" stroke-width="0.22">0</text>
<line x1="361.30" y1="359.10" x2="454.00" y2="359.10" stroke="#333" stroke-width="1.0"/>
<line x1="375.20" y1="359.10" x2="375.20" y2="361.90" stroke="#333" stroke-width="0.8"/>
<line x1="396.70" y1="359.10" x2="396.70" y2="361.90" stroke="#333" stroke-width="0.8"/>
<line x1="418.00" y1="359.10" x2="418.00" y2="361.90" stroke="#333" stroke-width="0.8"/>
<line x1="439.10" y1="359.10" x2="439.10" y2="361.90" stroke="#333" stroke-width="0.8"/>
<text x="343.60" y="309.50" font-size="9.2" text-anchor="middle" transform="rotate(-90 343.60 309.50)" stroke="#000" stroke-width="0.22" dominant-baseline="central">Histology score</text>
<circle cx="377.00" cy="343.34" r="2.8" fill="#d6d6d6" stroke="#1e1e1e" stroke-width="0.8"/>
<circle cx="380.00" cy="345.43" r="2.8" fill="#d6d6d6" stroke="#1e1e1e" stroke-width="0.8"/>
<circle cx="371.20" cy="347.04" r="2.8" fill="#d6d6d6" stroke="#1e1e1e" stroke-width="0.8"/>
<circle cx="375.50" cy="347.84" r="2.8" fill="#d6d6d6" stroke="#1e1e1e" stroke-width="0.8"/>
<circle cx="377.20" cy="350.26" r="2.8" fill="#d6d6d6" stroke="#1e1e1e" stroke-width="0.8"/>
<circle cx="374.20" cy="354.76" r="2.8" fill="#d6d6d6" stroke="#1e1e1e" stroke-width="0.8"/>
<line x1="375.20" y1="343.34" x2="375.20" y2="351.86" stroke="#333" stroke-width="0.9"/>
<line x1="371.60" y1="343.34" x2="378.80" y2="343.34" stroke="#333" stroke-width="0.9"/>
<line x1="371.60" y1="351.86" x2="378.80" y2="351.86" stroke="#333" stroke-width="0.9"/>
<line x1="368.20" y1="347.52" x2="382.20" y2="347.52" stroke="#333" stroke-width="0.9"/>
<circle cx="396.70" cy="285.61" r="2.8" fill="#e3261c" stroke="#1e1e1e" stroke-width="0.8"/>
<circle cx="392.60" cy="299.12" r="2.8" fill="#e3261c" stroke="#1e1e1e" stroke-width="0.8"/>
<circle cx="401.00" cy="300.89" r="2.8" fill="#e3261c" stroke="#1e1e1e" stroke-width="0.8"/>
<circle cx="392.60" cy="308.93" r="2.8" fill="#e3261c" stroke="#1e1e1e" stroke-width="0.8"/>
<circle cx="401.00" cy="314.08" r="2.8" fill="#e3261c" stroke="#1e1e1e" stroke-width="0.8"/>
<circle cx="396.70" cy="321.15" r="2.8" fill="#e3261c" stroke="#1e1e1e" stroke-width="0.8"/>
<line x1="396.70" y1="292.69" x2="396.70" y2="317.29" stroke="#333" stroke-width="0.9"/>
<line x1="393.10" y1="292.69" x2="400.30" y2="292.69" stroke="#333" stroke-width="0.9"/>
<line x1="393.10" y1="317.29" x2="400.30" y2="317.29" stroke="#333" stroke-width="0.9"/>
<line x1="389.70" y1="305.07" x2="403.70" y2="305.07" stroke="#333" stroke-width="0.9"/>
<circle cx="418.00" cy="311.02" r="2.8" fill="#c9c30a" stroke="#1e1e1e" stroke-width="0.8"/>
<circle cx="422.10" cy="324.21" r="2.8" fill="#c9c30a" stroke="#1e1e1e" stroke-width="0.8"/>
<circle cx="413.70" cy="330.16" r="2.8" fill="#c9c30a" stroke="#1e1e1e" stroke-width="0.8"/>
<circle cx="418.00" cy="330.16" r="2.8" fill="#c9c30a" stroke="#1e1e1e" stroke-width="0.8"/>
<circle cx="422.10" cy="334.98" r="2.8" fill="#c9c30a" stroke="#1e1e1e" stroke-width="0.8"/>
<circle cx="413.70" cy="337.23" r="2.8" fill="#c9c30a" stroke="#1e1e1e" stroke-width="0.8"/>
<line x1="418.00" y1="318.42" x2="418.00" y2="337.23" stroke="#333" stroke-width="0.9"/>
<line x1="414.40" y1="318.42" x2="421.60" y2="318.42" stroke="#333" stroke-width="0.9"/>
<line x1="414.40" y1="337.23" x2="421.60" y2="337.23" stroke="#333" stroke-width="0.9"/>
<line x1="411.00" y1="328.55" x2="425.00" y2="328.55" stroke="#333" stroke-width="0.9"/>
<circle cx="439.10" cy="291.56" r="2.8" fill="#3b6fc2" stroke="#1e1e1e" stroke-width="0.8"/>
<circle cx="439.10" cy="297.03" r="2.8" fill="#3b6fc2" stroke="#1e1e1e" stroke-width="0.8"/>
<circle cx="439.10" cy="304.43" r="2.8" fill="#3b6fc2" stroke="#1e1e1e" stroke-width="0.8"/>
<circle cx="439.10" cy="313.27" r="2.8" fill="#3b6fc2" stroke="#1e1e1e" stroke-width="0.8"/>
<circle cx="443.60" cy="325.81" r="2.8" fill="#3b6fc2" stroke="#1e1e1e" stroke-width="0.8"/>
<circle cx="435.00" cy="328.87" r="2.8" fill="#3b6fc2" stroke="#1e1e1e" stroke-width="0.8"/>
<line x1="439.10" y1="295.26" x2="439.10" y2="325.33" stroke="#333" stroke-width="0.9"/>
<line x1="435.50" y1="295.26" x2="442.70" y2="295.26" stroke="#333" stroke-width="0.9"/>
<line x1="435.50" y1="325.33" x2="442.70" y2="325.33" stroke="#333" stroke-width="0.9"/>
<line x1="432.10" y1="310.22" x2="446.10" y2="310.22" stroke="#333" stroke-width="0.9"/>
<path d="M397.50,263.70 L397.50,259.80 L439.50,259.80 L439.50,263.70" stroke="#1e1e1e" stroke-width="0.9" fill="none"/>
<text x="399.50" y="257.20" font-size="9.2" stroke="#000" stroke-width="0.22"><tspan font-style="italic">P</tspan> = 0.7661</text>
<path d="M397.00,279.40 L397.00,274.50 L419.40,274.50 L419.40,279.40" stroke="#1e1e1e" stroke-width="0.9" fill="none"/>
<text x="392.10" y="272.30" font-size="9.2" stroke="#000" stroke-width="0.22"><tspan font-style="italic">P</tspan> = 0.0056</text>
<line x1="480.60" y1="265.20" x2="480.60" y2="358.90" stroke="#333" stroke-width="1.0"/>
<line x1="478.40" y1="265.10" x2="480.60" y2="265.10" stroke="#333" stroke-width="0.9"/>
<text x="477.60" y="268.40" font-size="9.0" text-anchor="end" stroke="#000" stroke-width="0.22">10</text>
<line x1="478.40" y1="291.90" x2="480.60" y2="291.90" stroke="#333" stroke-width="0.9"/>
<text x="477.60" y="295.20" font-size="9.0" text-anchor="end" stroke="#000" stroke-width="0.22">8</text>
<line x1="478.40" y1="318.70" x2="480.60" y2="318.70" stroke="#333" stroke-width="0.9"/>
<text x="477.60" y="322.00" font-size="9.0" text-anchor="end" stroke="#000" stroke-width="0.22">6</text>
<line x1="478.40" y1="345.50" x2="480.60" y2="345.50" stroke="#333" stroke-width="0.9"/>
<text x="477.60" y="348.80" font-size="9.0" text-anchor="end" stroke="#000" stroke-width="0.22">4</text>
<line x1="480.60" y1="358.90" x2="569.60" y2="358.90" stroke="#333" stroke-width="1.0"/>
<line x1="494.20" y1="358.90" x2="494.20" y2="361.70" stroke="#333" stroke-width="0.8"/>
<line x1="514.20" y1="358.90" x2="514.20" y2="361.70" stroke="#333" stroke-width="0.8"/>
<line x1="534.40" y1="358.90" x2="534.40" y2="361.70" stroke="#333" stroke-width="0.8"/>
<line x1="554.50" y1="358.90" x2="554.50" y2="361.70" stroke="#333" stroke-width="0.8"/>
<text x="458.60" y="315.00" font-size="9.2" text-anchor="middle" transform="rotate(-90 458.60 315.00)" stroke="#000" stroke-width="0.22" dominant-baseline="central">Colon length (cm)</text>
<circle cx="498.70" cy="273.81" r="2.8" fill="#d6d6d6" stroke="#1e1e1e" stroke-width="0.8"/>
<circle cx="490.20" cy="277.16" r="2.8" fill="#d6d6d6" stroke="#1e1e1e" stroke-width="0.8"/>
<circle cx="494.70" cy="278.50" r="2.8" fill="#d6d6d6" stroke="#1e1e1e" stroke-width="0.8"/>
<circle cx="499.20" cy="280.51" r="2.8" fill="#d6d6d6" stroke="#1e1e1e" stroke-width="0.8"/>
<circle cx="490.20" cy="291.23" r="2.8" fill="#d6d6d6" stroke="#1e1e1e" stroke-width="0.8"/>
<circle cx="495.20" cy="292.57" r="2.8" fill="#d6d6d6" stroke="#1e1e1e" stroke-width="0.8"/>
<line x1="494.20" y1="274.88" x2="494.20" y2="290.29" stroke="#333" stroke-width="0.9"/>
<line x1="490.60" y1="274.88" x2="497.80" y2="274.88" stroke="#333" stroke-width="0.9"/>
<line x1="490.60" y1="290.29" x2="497.80" y2="290.29" stroke="#333" stroke-width="0.9"/>
<line x1="487.20" y1="282.52" x2="501.20" y2="282.52" stroke="#333" stroke-width="0.9"/>
<circle cx="518.70" cy="314.01" r="2.8" fill="#e3261c" stroke="#1e1e1e" stroke-width="0.8"/>
<circle cx="513.20" cy="315.35" r="2.8" fill="#e3261c" stroke="#1e1e1e" stroke-width="0.8"/>
<circle cx="514.20" cy="329.42" r="2.8" fill="#e3261c" stroke="#1e1e1e" stroke-width="0.8"/>
<circle cx="514.20" cy="335.45" r="2.8" fill="#e3261c" stroke="#1e1e1e" stroke-width="0.8"/>
<circle cx="510.20" cy="340.14" r="2.8" fill="#e3261c" stroke="#1e1e1e" stroke-width="0.8"/>
<circle cx="518.70" cy="340.14" r="2.8" fill="#e3261c" stroke="#1e1e1e" stroke-width="0.8"/>
<line x1="514.20" y1="318.70" x2="514.20" y2="340.14" stroke="#333" stroke-width="0.9"/>
<line x1="510.60" y1="318.70" x2="517.80" y2="318.70" stroke="#333" stroke-width="0.9"/>
<line x1="510.60" y1="340.14" x2="517.80" y2="340.14" stroke="#333" stroke-width="0.9"/>
<line x1="507.20" y1="329.42" x2="521.20" y2="329.42" stroke="#333" stroke-width="0.9"/>
<circle cx="530.60" cy="288.55" r="2.8" fill="#c9c30a" stroke="#1e1e1e" stroke-width="0.8"/>
<circle cx="538.60" cy="288.55" r="2.8" fill="#c9c30a" stroke="#1e1e1e" stroke-width="0.8"/>
<circle cx="538.40" cy="297.26" r="2.8" fill="#c9c30a" stroke="#1e1e1e" stroke-width="0.8"/>
<circle cx="530.60" cy="303.29" r="2.8" fill="#c9c30a" stroke="#1e1e1e" stroke-width="0.8"/>
<circle cx="538.40" cy="303.29" r="2.8" fill="#c9c30a" stroke="#1e1e1e" stroke-width="0.8"/>
<circle cx="534.40" cy="329.42" r="2.8" fill="#c9c30a" stroke="#1e1e1e" stroke-width="0.8"/>
<line x1="534.40" y1="288.15" x2="534.40" y2="317.36" stroke="#333" stroke-width="0.9"/>
<line x1="530.80" y1="288.15" x2="538.00" y2="288.15" stroke="#333" stroke-width="0.9"/>
<line x1="530.80" y1="317.36" x2="538.00" y2="317.36" stroke="#333" stroke-width="0.9"/>
<line x1="527.40" y1="302.62" x2="541.40" y2="302.62" stroke="#333" stroke-width="0.9"/>
<circle cx="554.50" cy="324.06" r="2.8" fill="#3b6fc2" stroke="#1e1e1e" stroke-width="0.8"/>
<circle cx="550.00" cy="334.78" r="2.8" fill="#3b6fc2" stroke="#1e1e1e" stroke-width="0.8"/>
<circle cx="559.00" cy="334.78" r="2.8" fill="#3b6fc2" stroke="#1e1e1e" stroke-width="0.8"/>
<circle cx="554.50" cy="335.45" r="2.8" fill="#3b6fc2" stroke="#1e1e1e" stroke-width="0.8"/>
<circle cx="559.00" cy="340.14" r="2.8" fill="#3b6fc2" stroke="#1e1e1e" stroke-width="0.8"/>
<circle cx="550.50" cy="345.50" r="2.8" fill="#3b6fc2" stroke="#1e1e1e" stroke-width="0.8"/>
<line x1="554.50" y1="329.42" x2="554.50" y2="343.49" stroke="#333" stroke-width="0.9"/>
<line x1="550.90" y1="329.42" x2="558.10" y2="329.42" stroke="#333" stroke-width="0.9"/>
<line x1="550.90" y1="343.49" x2="558.10" y2="343.49" stroke="#333" stroke-width="0.9"/>
<line x1="547.50" y1="336.79" x2="561.50" y2="336.79" stroke="#333" stroke-width="0.9"/>
<path d="M514.20,264.30 L514.20,260.90 L551.70,260.90 L551.70,264.30" stroke="#1e1e1e" stroke-width="0.9" fill="none"/>
<text x="516.80" y="256.20" font-size="9.2" stroke="#000" stroke-width="0.22"><tspan font-style="italic">P</tspan> = 0.6003</text>
<path d="M514.20,282.70 L514.20,278.30 L534.00,278.30 L534.00,282.70" stroke="#1e1e1e" stroke-width="0.9" fill="none"/>
<text x="507.10" y="275.50" font-size="9.2" stroke="#000" stroke-width="0.22"><tspan font-style="italic">P</tspan> = 0.0010</text>
<line x1="597.30" y1="267.80" x2="597.30" y2="358.90" stroke="#333" stroke-width="1.0"/>
<line x1="595.10" y1="268.00" x2="597.30" y2="268.00" stroke="#333" stroke-width="0.9"/>
<text x="594.10" y="271.30" font-size="9.0" text-anchor="end" stroke="#000" stroke-width="0.22">25</text>
<line x1="595.10" y1="286.18" x2="597.30" y2="286.18" stroke="#333" stroke-width="0.9"/>
<text x="594.10" y="289.48" font-size="9.0" text-anchor="end" stroke="#000" stroke-width="0.22">20</text>
<line x1="595.10" y1="304.36" x2="597.30" y2="304.36" stroke="#333" stroke-width="0.9"/>
<text x="594.10" y="307.66" font-size="9.0" text-anchor="end" stroke="#000" stroke-width="0.22">15</text>
<line x1="595.10" y1="322.54" x2="597.30" y2="322.54" stroke="#333" stroke-width="0.9"/>
<text x="594.10" y="325.84" font-size="9.0" text-anchor="end" stroke="#000" stroke-width="0.22">10</text>
<line x1="595.10" y1="340.72" x2="597.30" y2="340.72" stroke="#333" stroke-width="0.9"/>
<text x="594.10" y="344.02" font-size="9.0" text-anchor="end" stroke="#000" stroke-width="0.22">5</text>
<line x1="595.10" y1="358.90" x2="597.30" y2="358.90" stroke="#333" stroke-width="0.9"/>
<text x="594.10" y="362.20" font-size="9.0" text-anchor="end" stroke="#000" stroke-width="0.22">0</text>
<line x1="597.30" y1="358.90" x2="684.60" y2="358.90" stroke="#333" stroke-width="1.0"/>
<line x1="610.70" y1="358.90" x2="610.70" y2="361.70" stroke="#333" stroke-width="0.8"/>
<line x1="630.70" y1="358.90" x2="630.70" y2="361.70" stroke="#333" stroke-width="0.8"/>
<line x1="650.70" y1="358.90" x2="650.70" y2="361.70" stroke="#333" stroke-width="0.8"/>
<line x1="670.60" y1="358.90" x2="670.60" y2="361.70" stroke="#333" stroke-width="0.8"/>
<text x="575.10" y="309.00" font-size="9.45" text-anchor="middle" transform="rotate(-90 575.10 309.00)" stroke="#000" stroke-width="0.22" dominant-baseline="central">FITC-dextran (µg/ml)</text>
<circle cx="608.20" cy="339.63" r="2.8" fill="#d6d6d6" stroke="#1e1e1e" stroke-width="0.8"/>
<circle cx="613.20" cy="341.27" r="2.8" fill="#d6d6d6" stroke="#1e1e1e" stroke-width="0.8"/>
<circle cx="606.20" cy="343.45" r="2.8" fill="#d6d6d6" stroke="#1e1e1e" stroke-width="0.8"/>
<circle cx="610.70" cy="345.63" r="2.8" fill="#d6d6d6" stroke="#1e1e1e" stroke-width="0.8"/>
<circle cx="605.70" cy="345.63" r="2.8" fill="#d6d6d6" stroke="#1e1e1e" stroke-width="0.8"/>
<circle cx="615.20" cy="345.63" r="2.8" fill="#d6d6d6" stroke="#1e1e1e" stroke-width="0.8"/>
<line x1="610.70" y1="340.72" x2="610.70" y2="345.81" stroke="#333" stroke-width="0.9"/>
<line x1="607.10" y1="340.72" x2="614.30" y2="340.72" stroke="#333" stroke-width="0.9"/>
<line x1="607.10" y1="345.81" x2="614.30" y2="345.81" stroke="#333" stroke-width="0.9"/>
<line x1="603.70" y1="343.27" x2="617.70" y2="343.27" stroke="#333" stroke-width="0.9"/>
<circle cx="627.10" cy="290.18" r="2.8" fill="#e3261c" stroke="#1e1e1e" stroke-width="0.8"/>
<circle cx="630.70" cy="295.27" r="2.8" fill="#e3261c" stroke="#1e1e1e" stroke-width="0.8"/>
<circle cx="626.70" cy="298.91" r="2.8" fill="#e3261c" stroke="#1e1e1e" stroke-width="0.8"/>
<circle cx="635.20" cy="301.45" r="2.8" fill="#e3261c" stroke="#1e1e1e" stroke-width="0.8"/>
<circle cx="630.70" cy="301.45" r="2.8" fill="#e3261c" stroke="#1e1e1e" stroke-width="0.8"/>
<circle cx="630.70" cy="314.36" r="2.8" fill="#e3261c" stroke="#1e1e1e" stroke-width="0.8"/>
<line x1="630.70" y1="292.00" x2="630.70" y2="309.45" stroke="#333" stroke-width="0.9"/>
<line x1="627.10" y1="292.00" x2="634.30" y2="292.00" stroke="#333" stroke-width="0.9"/>
<line x1="627.10" y1="309.45" x2="634.30" y2="309.45" stroke="#333" stroke-width="0.9"/>
<line x1="623.70" y1="301.45" x2="637.70" y2="301.45" stroke="#333" stroke-width="0.9"/>
<circle cx="654.70" cy="303.27" r="2.8" fill="#c9c30a" stroke="#1e1e1e" stroke-width="0.8"/>
<circle cx="650.70" cy="308.00" r="2.8" fill="#c9c30a" stroke="#1e1e1e" stroke-width="0.8"/>
<circle cx="650.70" cy="316.54" r="2.8" fill="#c9c30a" stroke="#1e1e1e" stroke-width="0.8"/>
<circle cx="646.70" cy="321.81" r="2.8" fill="#c9c30a" stroke="#1e1e1e" stroke-width="0.8"/>
<circle cx="646.70" cy="324.36" r="2.8" fill="#c9c30a" stroke="#1e1e1e" stroke-width="0.8"/>
<circle cx="654.70" cy="324.36" r="2.8" fill="#c9c30a" stroke="#1e1e1e" stroke-width="0.8"/>
<line x1="650.70" y1="307.27" x2="650.70" y2="326.18" stroke="#333" stroke-width="0.9"/>
<line x1="647.10" y1="307.27" x2="654.30" y2="307.27" stroke="#333" stroke-width="0.9"/>
<line x1="647.10" y1="326.18" x2="654.30" y2="326.18" stroke="#333" stroke-width="0.9"/>
<line x1="643.70" y1="316.72" x2="657.70" y2="316.72" stroke="#333" stroke-width="0.9"/>
<circle cx="666.60" cy="287.27" r="2.8" fill="#3b6fc2" stroke="#1e1e1e" stroke-width="0.8"/>
<circle cx="674.90" cy="287.27" r="2.8" fill="#3b6fc2" stroke="#1e1e1e" stroke-width="0.8"/>
<circle cx="670.60" cy="292.00" r="2.8" fill="#3b6fc2" stroke="#1e1e1e" stroke-width="0.8"/>
<circle cx="670.60" cy="292.00" r="2.8" fill="#3b6fc2" stroke="#1e1e1e" stroke-width="0.8"/>
<circle cx="667.60" cy="309.09" r="2.8" fill="#3b6fc2" stroke="#1e1e1e" stroke-width="0.8"/>
<circle cx="673.60" cy="310.90" r="2.8" fill="#3b6fc2" stroke="#1e1e1e" stroke-width="0.8"/>
<line x1="670.60" y1="287.63" x2="670.60" y2="307.27" stroke="#333" stroke-width="0.9"/>
<line x1="667.00" y1="287.63" x2="674.20" y2="287.63" stroke="#333" stroke-width="0.9"/>
<line x1="667.00" y1="307.27" x2="674.20" y2="307.27" stroke="#333" stroke-width="0.9"/>
<line x1="663.60" y1="296.72" x2="677.60" y2="296.72" stroke="#333" stroke-width="0.9"/>
<path d="M628.10,268.00 L628.10,262.60 L670.60,262.60 L670.60,268.00" stroke="#1e1e1e" stroke-width="0.9" fill="none"/>
<text x="633.50" y="258.30" font-size="9.2" stroke="#000" stroke-width="0.22"><tspan font-style="italic">P</tspan>= 0.7456</text>
<path d="M627.50,283.00 L627.50,278.30 L650.70,278.30 L650.70,283.00" stroke="#1e1e1e" stroke-width="0.9" fill="none"/>
<text x="618.90" y="276.20" font-size="9.2" stroke="#000" stroke-width="0.22"><tspan font-style="italic">P</tspan> = 0.0092</text>
<line x1="11.40" y1="424.80" x2="20.00" y2="424.80" stroke="#555" stroke-width="0.7"/>
<circle cx="15.70" cy="424.80" r="2.4" fill="#f2f2f2" stroke="#555" stroke-width="0.7"/>
<line x1="13.30" y1="424.80" x2="18.10" y2="424.80" stroke="#555" stroke-width="0.6"/>
<text x="25.60" y="427.80" font-size="9.35" stroke="#000" stroke-width="0.22">Con</text>
<line x1="11.40" y1="443.80" x2="20.00" y2="443.80" stroke="#e3261c" stroke-width="0.7"/>
<circle cx="15.70" cy="443.80" r="2.4" fill="#e3261c" stroke="#333" stroke-width="0.6"/>
<text x="25.60" y="446.90" font-size="9.4" stroke="#000" stroke-width="0.22">TNBS</text>
<line x1="11.40" y1="465.40" x2="20.00" y2="465.40" stroke="#3b6fc2" stroke-width="0.7"/>
<circle cx="15.70" cy="465.40" r="2.4" fill="#3b6fc2" stroke="#333" stroke-width="0.6"/>
<text x="25.60" y="468.00" font-size="9.4" stroke="#000" stroke-width="0.22">LPH+TNBS</text>
<line x1="81.30" y1="425.30" x2="89.90" y2="425.30" stroke="#8b2bb8" stroke-width="0.7"/>
<circle cx="85.60" cy="425.30" r="2.4" fill="#8b2bb8" stroke="#333" stroke-width="0.6"/>
<text x="95.60" y="427.30" font-size="8.9" stroke="#000" stroke-width="0.22">BSA_PG+TNBS</text>
<line x1="81.30" y1="444.20" x2="89.90" y2="444.20" stroke="#c9c30a" stroke-width="0.7"/>
<circle cx="85.60" cy="444.20" r="2.4" fill="#c9c30a" stroke="#333" stroke-width="0.6"/>
<text x="95.60" y="446.60" font-size="8.9" stroke="#000" stroke-width="0.22">LPH_PG+TNBS</text>
<line x1="81.30" y1="465.40" x2="89.90" y2="465.40" stroke="#7d7d7d" stroke-width="0.7"/>
<circle cx="85.60" cy="465.40" r="2.4" fill="#7d7d7d" stroke="#333" stroke-width="0.6"/>
<text x="95.60" y="467.80" font-size="8.9" textLength="80.6" lengthAdjust="spacingAndGlyphs" stroke="#000" stroke-width="0.22">LPH-3D_PG+TNBS</text>
<line x1="32.40" y1="498.50" x2="32.40" y2="578.80" stroke="#7a7a7a" stroke-width="1.0"/>
<line x1="30.60" y1="499.00" x2="32.40" y2="499.00" stroke="#7a7a7a" stroke-width="0.9"/>
<text x="30.00" y="502.30" font-size="9.0" text-anchor="end" stroke="#000" stroke-width="0.22">110</text>
<line x1="30.60" y1="519.00" x2="32.40" y2="519.00" stroke="#7a7a7a" stroke-width="0.9"/>
<text x="30.00" y="522.30" font-size="9.0" text-anchor="end" stroke="#000" stroke-width="0.22">100</text>
<line x1="30.60" y1="539.00" x2="32.40" y2="539.00" stroke="#7a7a7a" stroke-width="0.9"/>
<text x="30.00" y="542.30" font-size="9.0" text-anchor="end" stroke="#000" stroke-width="0.22">90</text>
<line x1="30.60" y1="559.00" x2="32.40" y2="559.00" stroke="#7a7a7a" stroke-width="0.9"/>
<text x="30.00" y="562.30" font-size="9.0" text-anchor="end" stroke="#000" stroke-width="0.22">80</text>
<line x1="30.60" y1="579.00" x2="32.40" y2="579.00" stroke="#7a7a7a" stroke-width="0.9"/>
<text x="30.00" y="582.30" font-size="9.0" text-anchor="end" stroke="#000" stroke-width="0.22">70</text>
<line x1="32.40" y1="578.80" x2="158.40" y2="578.80" stroke="#7a7a7a" stroke-width="1.0"/>
<line x1="47.40" y1="578.80" x2="47.40" y2="581.10" stroke="#7a7a7a" stroke-width="0.8"/>
<text x="47.40" y="589.30" font-size="9.0" text-anchor="middle" stroke="#000" stroke-width="0.22">0</text>
<line x1="71.50" y1="578.80" x2="71.50" y2="581.10" stroke="#7a7a7a" stroke-width="0.8"/>
<text x="71.50" y="589.30" font-size="9.0" text-anchor="middle" stroke="#000" stroke-width="0.22">1</text>
<line x1="95.40" y1="578.80" x2="95.40" y2="581.10" stroke="#7a7a7a" stroke-width="0.8"/>
<text x="95.40" y="589.30" font-size="9.0" text-anchor="middle" stroke="#000" stroke-width="0.22">2</text>
<line x1="119.20" y1="578.80" x2="119.20" y2="581.10" stroke="#7a7a7a" stroke-width="0.8"/>
<text x="119.20" y="589.30" font-size="9.0" text-anchor="middle" stroke="#000" stroke-width="0.22">3</text>
<line x1="142.80" y1="578.80" x2="142.80" y2="581.10" stroke="#7a7a7a" stroke-width="0.8"/>
<text x="142.80" y="589.30" font-size="9.0" text-anchor="middle" stroke="#000" stroke-width="0.22">4</text>
<text x="97.10" y="601.20" font-size="9.2" text-anchor="middle" stroke="#000" stroke-width="0.22">Days</text>
<text x="6.30" y="528.00" font-size="9.2" text-anchor="middle" transform="rotate(-90 6.30 528.00)" stroke="#000" stroke-width="0.22" dominant-baseline="central">Body weight (% at day 0)</text>
<polyline points="47.40,519.00 71.50,521.00 95.40,522.00 119.20,521.00 142.80,518.80" fill="none" stroke="#333" stroke-width="0.8"/>
<polyline points="47.40,519.00 71.50,537.00 95.40,542.60 119.20,555.60 142.80,564.00" fill="none" stroke="#8b2bb8" stroke-width="0.8"/>
<polyline points="47.40,519.00 71.50,530.40 95.40,539.00 119.20,553.80 142.80,561.20" fill="none" stroke="#888" stroke-width="0.8"/>
<polyline points="47.40,519.00 71.50,527.00 95.40,534.40 119.20,543.00 142.80,545.00" fill="none" stroke="#c9c30a" stroke-width="0.8"/>
<polyline points="47.40,519.00 71.50,528.40 95.40,537.20 119.20,545.60 142.80,554.20" fill="none" stroke="#3b6fc2" stroke-width="0.8"/>
<polyline points="47.40,519.00 71.50,532.80 95.40,540.60 119.20,556.60 142.80,563.20" fill="none" stroke="#e3261c" stroke-width="0.8"/>
<line x1="71.50" y1="516.20" x2="71.50" y2="525.80" stroke="#2a2a2a" stroke-width="0.8"/>
<line x1="69.10" y1="516.20" x2="73.90" y2="516.20" stroke="#2a2a2a" stroke-width="0.8"/>
<line x1="69.10" y1="525.80" x2="73.90" y2="525.80" stroke="#2a2a2a" stroke-width="0.8"/>
<line x1="95.40" y1="514.80" x2="95.40" y2="529.20" stroke="#2a2a2a" stroke-width="0.8"/>
<line x1="93.00" y1="514.80" x2="97.80" y2="514.80" stroke="#2a2a2a" stroke-width="0.8"/>
<line x1="93.00" y1="529.20" x2="97.80" y2="529.20" stroke="#2a2a2a" stroke-width="0.8"/>
<line x1="119.20" y1="513.00" x2="119.20" y2="529.00" stroke="#2a2a2a" stroke-width="0.8"/>
<line x1="116.80" y1="513.00" x2="121.60" y2="513.00" stroke="#2a2a2a" stroke-width="0.8"/>
<line x1="116.80" y1="529.00" x2="121.60" y2="529.00" stroke="#2a2a2a" stroke-width="0.8"/>
<line x1="142.80" y1="510.00" x2="142.80" y2="527.60" stroke="#2a2a2a" stroke-width="0.8"/>
<line x1="140.40" y1="510.00" x2="145.20" y2="510.00" stroke="#2a2a2a" stroke-width="0.8"/>
<line x1="140.40" y1="527.60" x2="145.20" y2="527.60" stroke="#2a2a2a" stroke-width="0.8"/>
<line x1="71.50" y1="533.40" x2="71.50" y2="540.60" stroke="#2a2a2a" stroke-width="0.8"/>
<line x1="69.10" y1="533.40" x2="73.90" y2="533.40" stroke="#2a2a2a" stroke-width="0.8"/>
<line x1="69.10" y1="540.60" x2="73.90" y2="540.60" stroke="#2a2a2a" stroke-width="0.8"/>
<line x1="95.40" y1="539.00" x2="95.40" y2="546.20" stroke="#2a2a2a" stroke-width="0.8"/>
<line x1="93.00" y1="539.00" x2="97.80" y2="539.00" stroke="#2a2a2a" stroke-width="0.8"/>
<line x1="93.00" y1="546.20" x2="97.80" y2="546.20" stroke="#2a2a2a" stroke-width="0.8"/>
<line x1="119.20" y1="550.60" x2="119.20" y2="560.60" stroke="#2a2a2a" stroke-width="0.8"/>
<line x1="116.80" y1="550.60" x2="121.60" y2="550.60" stroke="#2a2a2a" stroke-width="0.8"/>
<line x1="116.80" y1="560.60" x2="121.60" y2="560.60" stroke="#2a2a2a" stroke-width="0.8"/>
<line x1="142.80" y1="556.80" x2="142.80" y2="571.20" stroke="#2a2a2a" stroke-width="0.8"/>
<line x1="140.40" y1="556.80" x2="145.20" y2="556.80" stroke="#2a2a2a" stroke-width="0.8"/>
<line x1="140.40" y1="571.20" x2="145.20" y2="571.20" stroke="#2a2a2a" stroke-width="0.8"/>
<line x1="71.50" y1="527.20" x2="71.50" y2="533.60" stroke="#2a2a2a" stroke-width="0.8"/>
<line x1="69.10" y1="527.20" x2="73.90" y2="527.20" stroke="#2a2a2a" stroke-width="0.8"/>
<line x1="69.10" y1="533.60" x2="73.90" y2="533.60" stroke="#2a2a2a" stroke-width="0.8"/>
<line x1="95.40" y1="535.40" x2="95.40" y2="542.60" stroke="#2a2a2a" stroke-width="0.8"/>
<line x1="93.00" y1="535.40" x2="97.80" y2="535.40" stroke="#2a2a2a" stroke-width="0.8"/>
<line x1="93.00" y1="542.60" x2="97.80" y2="542.60" stroke="#2a2a2a" stroke-width="0.8"/>
<line x1="119.20" y1="548.80" x2="119.20" y2="558.80" stroke="#2a2a2a" stroke-width="0.8"/>
<line x1="116.80" y1="548.80" x2="121.60" y2="548.80" stroke="#2a2a2a" stroke-width="0.8"/>
<line x1="116.80" y1="558.80" x2="121.60" y2="558.80" stroke="#2a2a2a" stroke-width="0.8"/>
<line x1="142.80" y1="556.20" x2="142.80" y2="566.20" stroke="#2a2a2a" stroke-width="0.8"/>
<line x1="140.40" y1="556.20" x2="145.20" y2="556.20" stroke="#2a2a2a" stroke-width="0.8"/>
<line x1="140.40" y1="566.20" x2="145.20" y2="566.20" stroke="#2a2a2a" stroke-width="0.8"/>
<line x1="71.50" y1="524.00" x2="71.50" y2="530.00" stroke="#2a2a2a" stroke-width="0.8"/>
<line x1="69.10" y1="524.00" x2="73.90" y2="524.00" stroke="#2a2a2a" stroke-width="0.8"/>
<line x1="69.10" y1="530.00" x2="73.90" y2="530.00" stroke="#2a2a2a" stroke-width="0.8"/>
<line x1="95.40" y1="531.40" x2="95.40" y2="537.40" stroke="#2a2a2a" stroke-width="0.8"/>
<line x1="93.00" y1="531.40" x2="97.80" y2="531.40" stroke="#2a2a2a" stroke-width="0.8"/>
<line x1="93.00" y1="537.40" x2="97.80" y2="537.40" stroke="#2a2a2a" stroke-width="0.8"/>
<line x1="119.20" y1="539.40" x2="119.20" y2="546.60" stroke="#2a2a2a" stroke-width="0.8"/>
<line x1="116.80" y1="539.40" x2="121.60" y2="539.40" stroke="#2a2a2a" stroke-width="0.8"/>
<line x1="116.80" y1="546.60" x2="121.60" y2="546.60" stroke="#2a2a2a" stroke-width="0.8"/>
<line x1="142.80" y1="537.40" x2="142.80" y2="552.60" stroke="#2a2a2a" stroke-width="0.8"/>
<line x1="140.40" y1="537.40" x2="145.20" y2="537.40" stroke="#2a2a2a" stroke-width="0.8"/>
<line x1="140.40" y1="552.60" x2="145.20" y2="552.60" stroke="#2a2a2a" stroke-width="0.8"/>
<line x1="71.50" y1="525.40" x2="71.50" y2="531.40" stroke="#2a2a2a" stroke-width="0.8"/>
<line x1="69.10" y1="525.40" x2="73.90" y2="525.40" stroke="#2a2a2a" stroke-width="0.8"/>
<line x1="69.10" y1="531.40" x2="73.90" y2="531.40" stroke="#2a2a2a" stroke-width="0.8"/>
<line x1="95.40" y1="533.20" x2="95.40" y2="541.20" stroke="#2a2a2a" stroke-width="0.8"/>
<line x1="93.00" y1="533.20" x2="97.80" y2="533.20" stroke="#2a2a2a" stroke-width="0.8"/>
<line x1="93.00" y1="541.20" x2="97.80" y2="541.20" stroke="#2a2a2a" stroke-width="0.8"/>
<line x1="119.20" y1="541.60" x2="119.20" y2="549.60" stroke="#2a2a2a" stroke-width="0.8"/>
<line x1="116.80" y1="541.60" x2="121.60" y2="541.60" stroke="#2a2a2a" stroke-width="0.8"/>
<line x1="116.80" y1="549.60" x2="121.60" y2="549.60" stroke="#2a2a2a" stroke-width="0.8"/>
<line x1="142.80" y1="550.20" x2="142.80" y2="558.20" stroke="#2a2a2a" stroke-width="0.8"/>
<line x1="140.40" y1="550.20" x2="145.20" y2="550.20" stroke="#2a2a2a" stroke-width="0.8"/>
<line x1="140.40" y1="558.20" x2="145.20" y2="558.20" stroke="#2a2a2a" stroke-width="0.8"/>
<line x1="71.50" y1="528.80" x2="71.50" y2="536.80" stroke="#2a2a2a" stroke-width="0.8"/>
<line x1="69.10" y1="528.80" x2="73.90" y2="528.80" stroke="#2a2a2a" stroke-width="0.8"/>
<line x1="69.10" y1="536.80" x2="73.90" y2="536.80" stroke="#2a2a2a" stroke-width="0.8"/>
<line x1="95.40" y1="536.60" x2="95.40" y2="544.60" stroke="#2a2a2a" stroke-width="0.8"/>
<line x1="93.00" y1="536.60" x2="97.80" y2="536.60" stroke="#2a2a2a" stroke-width="0.8"/>
<line x1="93.00" y1="544.60" x2="97.80" y2="544.60" stroke="#2a2a2a" stroke-width="0.8"/>
<line x1="119.20" y1="552.60" x2="119.20" y2="560.60" stroke="#2a2a2a" stroke-width="0.8"/>
<line x1="116.80" y1="552.60" x2="121.60" y2="552.60" stroke="#2a2a2a" stroke-width="0.8"/>
<line x1="116.80" y1="560.60" x2="121.60" y2="560.60" stroke="#2a2a2a" stroke-width="0.8"/>
<line x1="142.80" y1="559.20" x2="142.80" y2="567.20" stroke="#2a2a2a" stroke-width="0.8"/>
<line x1="140.40" y1="559.20" x2="145.20" y2="559.20" stroke="#2a2a2a" stroke-width="0.8"/>
<line x1="140.40" y1="567.20" x2="145.20" y2="567.20" stroke="#2a2a2a" stroke-width="0.8"/>
<circle cx="71.50" cy="521.00" r="2.3" fill="#efefef" stroke="#555" stroke-width="0.7"/>
<line x1="69.20" y1="521.00" x2="73.80" y2="521.00" stroke="#555" stroke-width="0.5"/>
<circle cx="95.40" cy="522.00" r="2.3" fill="#efefef" stroke="#555" stroke-width="0.7"/>
<line x1="93.10" y1="522.00" x2="97.70" y2="522.00" stroke="#555" stroke-width="0.5"/>
<circle cx="119.20" cy="521.00" r="2.3" fill="#efefef" stroke="#555" stroke-width="0.7"/>
<line x1="116.90" y1="521.00" x2="121.50" y2="521.00" stroke="#555" stroke-width="0.5"/>
<circle cx="142.80" cy="518.80" r="2.3" fill="#efefef" stroke="#555" stroke-width="0.7"/>
<line x1="140.50" y1="518.80" x2="145.10" y2="518.80" stroke="#555" stroke-width="0.5"/>
<circle cx="71.50" cy="537.00" r="2.3" fill="#8b2bb8" stroke="#333" stroke-width="0.6"/>
<circle cx="95.40" cy="542.60" r="2.3" fill="#8b2bb8" stroke="#333" stroke-width="0.6"/>
<circle cx="119.20" cy="555.60" r="2.3" fill="#8b2bb8" stroke="#333" stroke-width="0.6"/>
<circle cx="142.80" cy="564.00" r="2.3" fill="#8b2bb8" stroke="#333" stroke-width="0.6"/>
<circle cx="71.50" cy="530.40" r="2.3" fill="#7d7d7d" stroke="#333" stroke-width="0.6"/>
<circle cx="95.40" cy="539.00" r="2.3" fill="#7d7d7d" stroke="#333" stroke-width="0.6"/>
<circle cx="119.20" cy="553.80" r="2.3" fill="#7d7d7d" stroke="#333" stroke-width="0.6"/>
<circle cx="142.80" cy="561.20" r="2.3" fill="#7d7d7d" stroke="#333" stroke-width="0.6"/>
<circle cx="71.50" cy="527.00" r="2.3" fill="#c9c30a" stroke="#333" stroke-width="0.6"/>
<circle cx="95.40" cy="534.40" r="2.3" fill="#c9c30a" stroke="#333" stroke-width="0.6"/>
<circle cx="119.20" cy="543.00" r="2.3" fill="#c9c30a" stroke="#333" stroke-width="0.6"/>
<circle cx="142.80" cy="545.00" r="2.3" fill="#c9c30a" stroke="#333" stroke-width="0.6"/>
<circle cx="47.40" cy="519.00" r="2.3" fill="#3b6fc2" stroke="#333" stroke-width="0.6"/>
<circle cx="71.50" cy="528.40" r="2.3" fill="#3b6fc2" stroke="#333" stroke-width="0.6"/>
<circle cx="95.40" cy="537.20" r="2.3" fill="#3b6fc2" stroke="#333" stroke-width="0.6"/>
<circle cx="119.20" cy="545.60" r="2.3" fill="#3b6fc2" stroke="#333" stroke-width="0.6"/>
<circle cx="142.80" cy="554.20" r="2.3" fill="#3b6fc2" stroke="#333" stroke-width="0.6"/>
<circle cx="71.50" cy="532.80" r="2.3" fill="#e3261c" stroke="#333" stroke-width="0.6"/>
<circle cx="95.40" cy="540.60" r="2.3" fill="#e3261c" stroke="#333" stroke-width="0.6"/>
<circle cx="119.20" cy="556.60" r="2.3" fill="#e3261c" stroke="#333" stroke-width="0.6"/>
<circle cx="142.80" cy="563.20" r="2.3" fill="#e3261c" stroke="#333" stroke-width="0.6"/>
<text x="167.90" y="533.30" font-size="9.3" transform="rotate(90 167.90 533.30)" stroke="#000" stroke-width="0.22" dominant-baseline="central"><tspan font-style="italic">P</tspan> = 0.0073</text>
<text x="154.80" y="533.30" font-size="9.3" transform="rotate(90 154.80 533.30)" stroke="#000" stroke-width="0.22" dominant-baseline="central"><tspan font-style="italic">P</tspan> = 0.9985</text>
<path d="M159.0,544.9 L163.1,544.9 L163.1,566.5 L159.0,566.5" stroke="#111" stroke-width="1.1" fill="none"/>
<path d="M146.3,561.3 L149.6,561.3 L149.6,565.9 L146.3,565.9" stroke="#111" stroke-width="1.0" fill="#fff"/>
<text x="220.90" y="393.30" font-size="9.3" text-anchor="middle" stroke="#000" stroke-width="0.22">Con</text>
<text x="298.80" y="393.30" font-size="9.1" text-anchor="middle" stroke="#000" stroke-width="0.22">TNBS</text>
<text x="220.30" y="460.40" font-size="9.3" text-anchor="middle" stroke="#000" stroke-width="0.22">LPH_PG+TNBS</text>
<text x="298.20" y="460.40" font-size="9.3" text-anchor="middle" stroke="#000" stroke-width="0.22">BSA_PG+TNBS</text>
<text x="220.50" y="527.00" font-size="9.3" text-anchor="middle" stroke="#000" stroke-width="0.22">LPH+TNBS</text>
<text x="257.30" y="527.00" font-size="9.3" stroke="#000" stroke-width="0.22">LPH-3D_PG+TNBS</text>
<clipPath id="hc5"><rect x="0" y="0" width="72" height="50"/></clipPath>
<g transform="translate(182.40,398.10) scale(0.9847,0.9780)" clip-path="url(#hc5)"><g filter="url(#speck)">
<rect x="0" y="0" width="72" height="50" fill="#8a44b8"/>
<rect x="0" y="0" width="72" height="50" fill="url(#pdots2)"/>
<path d="M0.0,9.3 L12.0,9.0 L24.0,8.7 L36.0,8.3 L48.0,8.0 L60.0,7.5 L72.0,7.1 L72.0,13.8 L60.0,15.5 L48.0,17.0 L36.0,18.5 L24.0,20.0 L12.0,21.5 L0.0,23.0 Z" fill="#ffffff"/>
<path d="M0.0,14.4 L12.0,14.0 L24.0,13.4 L36.0,12.8 L48.0,12.0 L60.0,11.2 L72.0,10.5 L72.0,11.3 L60.0,12.0 L48.0,12.8 L36.0,13.6 L24.0,14.2 L12.0,14.8 L0.0,15.2 Z" fill="#e2b8e4"/>
<path d="M0.0,22.5 L12.0,21.0 L24.0,19.5 L36.0,18.0 L48.0,16.5 L60.0,15.0 L72.0,13.3 L72.0,16.3 L60.0,18.0 L48.0,19.5 L36.0,21.0 L24.0,22.5 L12.0,24.0 L0.0,25.5 Z" fill="#b070cc"/><path d="M0.0,22.5 L12.0,21.0 L24.0,19.5 L36.0,18.0 L48.0,16.5 L60.0,15.0 L72.0,13.3 L72.0,16.3 L60.0,18.0 L48.0,19.5 L36.0,21.0 L24.0,22.5 L12.0,24.0 L0.0,25.5 Z" fill="url(#pcrypt)"/>
<path d="M0.0,33.0 L12.0,33.0 L24.0,33.0 L36.0,33.0 L48.0,33.0 L60.0,33.0 L72.0,33.0 L72.0,34.5 L60.0,34.5 L48.0,34.5 L36.0,34.5 L24.0,34.5 L12.0,34.5 L0.0,34.5 Z" fill="#c07acc"/>
<path d="M0.0,43.0 L12.0,42.0 L24.0,42.0 L36.0,42.0 L48.0,42.0 L60.0,42.0 L72.0,42.0 L72.0,47.0 L60.0,47.0 L48.0,47.0 L36.0,47.0 L24.0,47.0 L12.0,47.0 L0.0,47.0 Z" fill="#d27cc8"/>
<path d="M0.0,47.0 L12.0,47.0 L24.0,47.0 L36.0,47.0 L48.0,47.0 L60.0,47.0 L72.0,47.0 L72.0,50.0 L60.0,50.0 L48.0,50.0 L36.0,50.0 L24.0,50.0 L12.0,50.0 L0.0,50.0 Z" fill="#f4e2f2"/>
<path d="M0,13 L3.5,14 L4,18 L2,20 L0,20 Z" fill="#9a58c0"/>
</g></g>
<line x1="237.35" y1="445.29" x2="250.11" y2="445.29" stroke="#999" stroke-width="0.9"/>
<rect x="182.40" y="398.10" width="70.90" height="48.90" fill="none" stroke="#5e5266" stroke-width="0.75"/>
<clipPath id="hc6"><rect x="0" y="0" width="72" height="50"/></clipPath>
<g transform="translate(261.10,398.10) scale(0.9819,0.9780)" clip-path="url(#hc6)"><g filter="url(#speck)">
<rect x="0" y="0" width="72" height="50" fill="#bd82d2"/>
<rect x="0" y="0" width="72" height="50" fill="url(#pdots)"/>
<path d="M0.0,0.0 L12.0,0.0 L24.0,0.0 L36.0,0.0 L48.0,0.0 L60.0,0.0 L72.0,0.0 L72.0,20.0 L60.0,18.0 L48.0,15.0 L36.0,12.0 L24.0,10.0 L12.0,9.0 L0.0,9.0 Z" fill="#b052b8"/>
<path d="M0.0,8.0 L12.0,9.0 L24.0,10.0 L36.0,11.0 L48.0,14.0 L60.0,17.0 L72.0,19.0 L72.0,21.0 L60.0,19.0 L48.0,16.0 L36.0,13.0 L24.0,12.0 L12.0,11.0 L0.0,11.0 Z" fill="#ffffff"/>
<path d="M0,0 L8,0 L10,6 L4,9 L0,9 Z" fill="#ffffff" opacity="0.7"/>
<path d="M0.0,36.0 L12.0,36.0 L24.0,36.0 L36.0,36.0 L48.0,36.0 L60.0,36.0 L72.0,36.0 L72.0,46.0 L60.0,46.0 L48.0,46.0 L36.0,46.0 L24.0,46.0 L12.0,46.0 L0.0,46.0 Z" fill="#d27ac8"/>
<path d="M26,37 L34,35 L42,37 L38,38 L30,38 Z" fill="#ffffff"/>
<path d="M0.0,46.0 L12.0,46.5 L24.0,47.0 L36.0,47.0 L48.0,46.5 L60.0,46.0 L72.0,46.0 L72.0,50.0 L60.0,50.0 L48.0,50.0 L36.0,50.0 L24.0,50.0 L12.0,50.0 L0.0,50.0 Z" fill="#ffffff"/>
</g></g>
<line x1="315.89" y1="445.29" x2="328.62" y2="445.29" stroke="#999" stroke-width="0.9"/>
<rect x="261.10" y="398.10" width="70.70" height="48.90" fill="none" stroke="#5e5266" stroke-width="0.75"/>
<clipPath id="hc7"><rect x="0" y="0" width="72" height="50"/></clipPath>
<g transform="translate(182.40,464.90) scale(0.9847,0.9660)" clip-path="url(#hc7)"><g filter="url(#speck)">
<rect x="0" y="0" width="72" height="50" fill="#a466c6"/>
<rect x="0" y="0" width="72" height="50" fill="url(#pdots)"/>
<path d="M33,0 L66,0 L66,6 L72,8 L72,26 L50,25 L46,22 L45,16 L40,10 L34,8 L30,3 Z" fill="#ffffff"/>
<path d="M20,10 L28,12 L26,16 L20,13 Z" fill="#f2e2f2"/>
<path d="M4,22 L16,22 L26,22 L40,23 L46,24 L30,26 L20,28 L18,32 L14,26 L6,25 Z" fill="#ffffff"/>
<path d="M0,2 L8,4 L16,8 L6,6 L0,5 Z" fill="#f2e2f2"/>
<path d="M0.0,38.0 L12.0,39.0 L24.0,40.0 L36.0,41.0 L48.0,42.0 L60.0,41.0 L72.0,41.0 L72.0,44.0 L60.0,44.0 L48.0,44.0 L36.0,44.0 L24.0,44.0 L12.0,44.0 L0.0,44.0 Z" fill="#c070c4"/>
<path d="M0,37 L12,48 L0,48 Z" fill="#d46ec0"/>
<path d="M0.0,44.0 L12.0,44.0 L24.0,44.0 L36.0,44.0 L48.0,44.0 L60.0,44.0 L72.0,44.0 L72.0,50.0 L60.0,50.0 L48.0,50.0 L36.0,50.0 L24.0,50.0 L12.0,50.0 L0.0,50.0 Z" fill="#eecbea"/>
</g></g>
<line x1="237.35" y1="511.51" x2="250.11" y2="511.51" stroke="#999" stroke-width="0.9"/>
<rect x="182.40" y="464.90" width="70.90" height="48.30" fill="none" stroke="#5e5266" stroke-width="0.75"/>
<clipPath id="hc8"><rect x="0" y="0" width="72" height="50"/></clipPath>
<g transform="translate(261.10,464.90) scale(0.9819,0.9660)" clip-path="url(#hc8)"><g filter="url(#speck)">
<rect x="0" y="0" width="72" height="50" fill="#bd82d2"/>
<rect x="0" y="0" width="72" height="50" fill="url(#pdots)"/>
<path d="M0,0 L20,0 L22,6 L16,12 L8,14 L0,14 Z" fill="#d882cc"/>
<path d="M4,2 L14,2 L16,6 L12,9 L6,8 Z" fill="#ffffff" opacity="0.85"/>
<path d="M48,0 L72,0 L72,18 L64,14 L56,10 L50,6 Z" fill="#d47cc8"/>
<path d="M70,2 L72,2 L72,16 L70,10 Z" fill="#ffffff"/>
<path d="M0,17 L4,17 L8,20 L12,24 L10,26 L4,22 L0,21 Z" fill="#ffffff"/>
<path d="M14,16 L34,14 L50,20 L46,30 L28,32 L16,26 Z" fill="#9a58bc" opacity="0.45"/>
<path d="M0.0,35.0 L12.0,35.0 L24.0,35.0 L36.0,35.0 L48.0,35.0 L60.0,35.0 L72.0,35.0 L72.0,48.0 L60.0,48.0 L48.0,48.0 L36.0,48.0 L24.0,48.0 L12.0,48.0 L0.0,48.0 Z" fill="#da92d6"/>
<path d="M0.0,41.0 L12.0,41.0 L24.0,41.0 L36.0,41.0 L48.0,41.0 L60.0,41.0 L72.0,41.0 L72.0,44.0 L60.0,44.0 L48.0,44.0 L36.0,44.0 L24.0,44.0 L12.0,44.0 L0.0,44.0 Z" fill="#e6b2e0"/>
<path d="M0.0,48.0 L12.0,48.0 L24.0,48.0 L36.0,48.0 L48.0,48.0 L60.0,48.0 L72.0,48.0 L72.0,50.0 L60.0,50.0 L48.0,50.0 L36.0,50.0 L24.0,50.0 L12.0,50.0 L0.0,50.0 Z" fill="#f0d6ee"/>
</g></g>
<line x1="315.89" y1="511.51" x2="328.62" y2="511.51" stroke="#999" stroke-width="0.9"/>
<rect x="261.10" y="464.90" width="70.70" height="48.30" fill="none" stroke="#5e5266" stroke-width="0.75"/>
<clipPath id="hc9"><rect x="0" y="0" width="72" height="50"/></clipPath>
<g transform="translate(182.40,531.60) scale(0.9889,0.9780)" clip-path="url(#hc9)"><g filter="url(#speck)">
<rect x="0" y="0" width="72" height="50" fill="#a262c6"/>
<rect x="0" y="0" width="72" height="50" fill="url(#pdots2)"/>
<path d="M41,12.5 L47,16 L54.6,11.5 L51,17.5 L57,21.5 L64,25.5 L71.5,30.5 L71.5,32.5 L62,27.5 L54,24.5 L48,23 L44,27 L37,34 L36,32.5 L40,26 L41.5,24.5 L34,24.5 L25,24.5 L25,22.5 L34,21.5 L43,19 Z" fill="#ffffff"/>
<path d="M8,24 L14,22 L18,24 L12,26 Z" fill="#f0dcf0"/>
<path d="M0,29 L20,35 L40,39 L72,41 L72,50 L0,50 Z" fill="#d274c4"/>
<path d="M8,37 L18,40 L32,43 L50,44.8 L71,45.2 L71,47.2 L50,47.2 L30,46.8 L16,44.5 Z" fill="#ffffff" opacity="0.92"/>
<path d="M0.0,47.5 L12.0,47.5 L24.0,47.5 L36.0,47.5 L48.0,47.5 L60.0,47.5 L72.0,47.5 L72.0,50.0 L60.0,50.0 L48.0,50.0 L36.0,50.0 L24.0,50.0 L12.0,50.0 L0.0,50.0 Z" fill="#eabae4"/>
</g></g>
<line x1="237.58" y1="578.79" x2="250.40" y2="578.79" stroke="#999" stroke-width="0.9"/>
<rect x="182.40" y="531.60" width="71.20" height="48.90" fill="none" stroke="#5e5266" stroke-width="0.75"/>
<clipPath id="hc10"><rect x="0" y="0" width="72" height="50"/></clipPath>
<g transform="translate(261.30,531.60) scale(0.9722,0.9780)" clip-path="url(#hc10)"><g filter="url(#speck)">
<rect x="0" y="0" width="72" height="50" fill="#bd82d2"/>
<rect x="0" y="0" width="72" height="50" fill="url(#pdots)"/>
<path d="M0.0,3.0 L12.0,4.0 L24.0,5.0 L36.0,5.0 L48.0,4.0 L60.0,4.0 L72.0,4.0 L72.0,17.0 L60.0,16.0 L48.0,15.0 L36.0,16.0 L24.0,16.0 L12.0,15.0 L0.0,15.0 Z" fill="#8c44b4"/>
<path d="M0,0 L40,0 L42,3 L56,3 L54,6 L44,8 L40,12 L48,15 L40,16 L37,23 L32,18 L28,12 L22,8 L10,6 L0,5 Z" fill="#ffffff"/>
<path d="M0,14 L8,15 L10,17 L0,17 Z" fill="#f0dcf0"/>
<path d="M52,20 L64,18 L70,17 L68,21 L58,22 Z" fill="#ffffff"/>
<path d="M0.0,30.0 L12.0,30.0 L24.0,30.0 L36.0,30.0 L48.0,30.0 L60.0,30.0 L72.0,30.0 L72.0,33.0 L60.0,33.0 L48.0,33.0 L36.0,33.0 L24.0,33.0 L12.0,33.0 L0.0,33.0 Z" fill="#c462bc"/>
<path d="M0.0,33.0 L12.0,33.0 L24.0,33.0 L36.0,33.0 L48.0,33.0 L60.0,33.0 L72.0,33.0 L72.0,39.0 L60.0,40.0 L48.0,40.0 L36.0,41.0 L24.0,41.0 L12.0,41.0 L0.0,40.0 Z" fill="#eec8e8"/>
<path d="M0.0,40.0 L12.0,41.0 L24.0,41.0 L36.0,41.0 L48.0,40.0 L60.0,40.0 L72.0,39.0 L72.0,46.0 L60.0,46.0 L48.0,46.0 L36.0,46.0 L24.0,46.0 L12.0,46.0 L0.0,46.0 Z" fill="#d27ac8"/>
<path d="M0.0,46.0 L12.0,46.0 L24.0,47.0 L36.0,47.0 L48.0,47.0 L60.0,46.0 L72.0,46.0 L72.0,50.0 L60.0,50.0 L48.0,50.0 L36.0,50.0 L24.0,50.0 L12.0,50.0 L0.0,50.0 Z" fill="#fbf3fa"/>
</g></g>
<line x1="315.55" y1="578.79" x2="328.15" y2="578.79" stroke="#999" stroke-width="0.9"/>
<rect x="261.30" y="531.60" width="70.00" height="48.90" fill="none" stroke="#5e5266" stroke-width="0.75"/>
<circle cx="367.40" cy="422.30" r="3.0" fill="#d6d6d6" stroke="#333" stroke-width="0.6"/>
<text x="374.40" y="425.60" font-size="9.2" stroke="#000" stroke-width="0.22">Con</text>
<circle cx="367.40" cy="439.30" r="3.0" fill="#8b2bb8" stroke="#333" stroke-width="0.6"/>
<text x="374.40" y="442.50" font-size="9.2" stroke="#000" stroke-width="0.22">BSA_PG+TNBS</text>
<line x1="363.70" y1="487.30" x2="363.70" y2="578.30" stroke="#333" stroke-width="1.0"/>
<line x1="361.50" y1="487.50" x2="363.70" y2="487.50" stroke="#333" stroke-width="0.9"/>
<text x="360.10" y="490.80" font-size="9.0" text-anchor="end" stroke="#000" stroke-width="0.22">5</text>
<line x1="361.50" y1="505.66" x2="363.70" y2="505.66" stroke="#333" stroke-width="0.9"/>
<text x="360.10" y="508.96" font-size="9.0" text-anchor="end" stroke="#000" stroke-width="0.22">4</text>
<line x1="361.50" y1="523.82" x2="363.70" y2="523.82" stroke="#333" stroke-width="0.9"/>
<text x="360.10" y="527.12" font-size="9.0" text-anchor="end" stroke="#000" stroke-width="0.22">3</text>
<line x1="361.50" y1="541.98" x2="363.70" y2="541.98" stroke="#333" stroke-width="0.9"/>
<text x="360.10" y="545.28" font-size="9.0" text-anchor="end" stroke="#000" stroke-width="0.22">2</text>
<line x1="361.50" y1="560.14" x2="363.70" y2="560.14" stroke="#333" stroke-width="0.9"/>
<text x="360.10" y="563.44" font-size="9.0" text-anchor="end" stroke="#000" stroke-width="0.22">1</text>
<line x1="361.50" y1="578.30" x2="363.70" y2="578.30" stroke="#333" stroke-width="0.9"/>
<text x="360.10" y="581.60" font-size="9.0" text-anchor="end" stroke="#000" stroke-width="0.22">0</text>
<line x1="363.70" y1="578.30" x2="450.30" y2="578.30" stroke="#333" stroke-width="1.0"/>
<line x1="372.60" y1="578.30" x2="372.60" y2="581.10" stroke="#333" stroke-width="0.8"/>
<line x1="386.00" y1="578.30" x2="386.00" y2="581.10" stroke="#333" stroke-width="0.8"/>
<line x1="399.90" y1="578.30" x2="399.90" y2="581.10" stroke="#333" stroke-width="0.8"/>
<line x1="413.40" y1="578.30" x2="413.40" y2="581.10" stroke="#333" stroke-width="0.8"/>
<line x1="427.20" y1="578.30" x2="427.20" y2="581.10" stroke="#333" stroke-width="0.8"/>
<line x1="441.30" y1="578.30" x2="441.30" y2="581.10" stroke="#333" stroke-width="0.8"/>
<text x="343.90" y="533.40" font-size="9.2" text-anchor="middle" transform="rotate(-90 343.90 533.40)" stroke="#000" stroke-width="0.22" dominant-baseline="central">Histology score</text>
<circle cx="373.10" cy="555.78" r="2.6" fill="#d6d6d6" stroke="#1e1e1e" stroke-width="0.8"/>
<circle cx="369.10" cy="560.14" r="2.6" fill="#d6d6d6" stroke="#1e1e1e" stroke-width="0.8"/>
<circle cx="376.10" cy="561.05" r="2.6" fill="#d6d6d6" stroke="#1e1e1e" stroke-width="0.8"/>
<circle cx="372.60" cy="564.14" r="2.6" fill="#d6d6d6" stroke="#1e1e1e" stroke-width="0.8"/>
<circle cx="369.60" cy="567.95" r="2.6" fill="#d6d6d6" stroke="#1e1e1e" stroke-width="0.8"/>
<circle cx="375.60" cy="569.22" r="2.6" fill="#d6d6d6" stroke="#1e1e1e" stroke-width="0.8"/>
<line x1="372.60" y1="557.42" x2="372.60" y2="568.31" stroke="#1a1a1a" stroke-width="0.9"/>
<line x1="369.60" y1="557.42" x2="375.60" y2="557.42" stroke="#1a1a1a" stroke-width="0.9"/>
<line x1="369.60" y1="568.31" x2="375.60" y2="568.31" stroke="#1a1a1a" stroke-width="0.9"/>
<line x1="367.10" y1="562.86" x2="378.10" y2="562.86" stroke="#1a1a1a" stroke-width="0.9"/>
<circle cx="386.00" cy="494.76" r="2.6" fill="#e3261c" stroke="#1e1e1e" stroke-width="0.8"/>
<circle cx="388.50" cy="510.74" r="2.6" fill="#e3261c" stroke="#1e1e1e" stroke-width="0.8"/>
<circle cx="383.50" cy="513.83" r="2.6" fill="#e3261c" stroke="#1e1e1e" stroke-width="0.8"/>
<circle cx="383.50" cy="527.09" r="2.6" fill="#e3261c" stroke="#1e1e1e" stroke-width="0.8"/>
<circle cx="388.50" cy="532.90" r="2.6" fill="#e3261c" stroke="#1e1e1e" stroke-width="0.8"/>
<circle cx="386.00" cy="534.90" r="2.6" fill="#e3261c" stroke="#1e1e1e" stroke-width="0.8"/>
<line x1="386.00" y1="503.84" x2="386.00" y2="531.08" stroke="#1a1a1a" stroke-width="0.9"/>
<line x1="383.00" y1="503.84" x2="389.00" y2="503.84" stroke="#1a1a1a" stroke-width="0.9"/>
<line x1="383.00" y1="531.08" x2="389.00" y2="531.08" stroke="#1a1a1a" stroke-width="0.9"/>
<line x1="380.50" y1="519.64" x2="391.50" y2="519.64" stroke="#1a1a1a" stroke-width="0.9"/>
<circle cx="397.40" cy="534.53" r="2.6" fill="#3b6fc2" stroke="#1e1e1e" stroke-width="0.8"/>
<circle cx="402.40" cy="536.53" r="2.6" fill="#3b6fc2" stroke="#1e1e1e" stroke-width="0.8"/>
<circle cx="399.90" cy="539.44" r="2.6" fill="#3b6fc2" stroke="#1e1e1e" stroke-width="0.8"/>
<circle cx="399.90" cy="541.98" r="2.6" fill="#3b6fc2" stroke="#1e1e1e" stroke-width="0.8"/>
<circle cx="402.40" cy="546.88" r="2.6" fill="#3b6fc2" stroke="#1e1e1e" stroke-width="0.8"/>
<circle cx="397.40" cy="551.79" r="2.6" fill="#3b6fc2" stroke="#1e1e1e" stroke-width="0.8"/>
<line x1="399.90" y1="533.81" x2="399.90" y2="546.52" stroke="#1a1a1a" stroke-width="0.9"/>
<line x1="396.90" y1="533.81" x2="402.90" y2="533.81" stroke="#1a1a1a" stroke-width="0.9"/>
<line x1="396.90" y1="546.52" x2="402.90" y2="546.52" stroke="#1a1a1a" stroke-width="0.9"/>
<line x1="394.40" y1="540.16" x2="405.40" y2="540.16" stroke="#1a1a1a" stroke-width="0.9"/>
<circle cx="411.90" cy="498.21" r="2.6" fill="#8b2bb8" stroke="#1e1e1e" stroke-width="0.8"/>
<circle cx="414.90" cy="503.84" r="2.6" fill="#8b2bb8" stroke="#1e1e1e" stroke-width="0.8"/>
<circle cx="411.90" cy="508.75" r="2.6" fill="#8b2bb8" stroke="#1e1e1e" stroke-width="0.8"/>
<circle cx="414.90" cy="514.92" r="2.6" fill="#8b2bb8" stroke="#1e1e1e" stroke-width="0.8"/>
<circle cx="415.40" cy="534.53" r="2.6" fill="#8b2bb8" stroke="#1e1e1e" stroke-width="0.8"/>
<circle cx="411.40" cy="537.26" r="2.6" fill="#8b2bb8" stroke="#1e1e1e" stroke-width="0.8"/>
<line x1="413.40" y1="500.21" x2="413.40" y2="531.99" stroke="#1a1a1a" stroke-width="0.9"/>
<line x1="410.40" y1="500.21" x2="416.40" y2="500.21" stroke="#1a1a1a" stroke-width="0.9"/>
<line x1="410.40" y1="531.99" x2="416.40" y2="531.99" stroke="#1a1a1a" stroke-width="0.9"/>
<line x1="407.90" y1="516.01" x2="418.90" y2="516.01" stroke="#1a1a1a" stroke-width="0.9"/>
<circle cx="427.20" cy="539.62" r="2.6" fill="#c9c30a" stroke="#1e1e1e" stroke-width="0.8"/>
<circle cx="424.70" cy="545.25" r="2.6" fill="#c9c30a" stroke="#1e1e1e" stroke-width="0.8"/>
<circle cx="429.70" cy="549.06" r="2.6" fill="#c9c30a" stroke="#1e1e1e" stroke-width="0.8"/>
<circle cx="427.20" cy="549.97" r="2.6" fill="#c9c30a" stroke="#1e1e1e" stroke-width="0.8"/>
<circle cx="424.70" cy="554.51" r="2.6" fill="#c9c30a" stroke="#1e1e1e" stroke-width="0.8"/>
<circle cx="429.70" cy="554.51" r="2.6" fill="#c9c30a" stroke="#1e1e1e" stroke-width="0.8"/>
<line x1="427.20" y1="544.16" x2="427.20" y2="552.51" stroke="#1a1a1a" stroke-width="0.9"/>
<line x1="424.20" y1="544.16" x2="430.20" y2="544.16" stroke="#1a1a1a" stroke-width="0.9"/>
<line x1="424.20" y1="552.51" x2="430.20" y2="552.51" stroke="#1a1a1a" stroke-width="0.9"/>
<line x1="421.70" y1="549.24" x2="432.70" y2="549.24" stroke="#1a1a1a" stroke-width="0.9"/>
<circle cx="441.30" cy="493.49" r="2.6" fill="#7d7d7d" stroke="#1e1e1e" stroke-width="0.8"/>
<circle cx="443.80" cy="515.47" r="2.6" fill="#7d7d7d" stroke="#1e1e1e" stroke-width="0.8"/>
<circle cx="438.80" cy="517.65" r="2.6" fill="#7d7d7d" stroke="#1e1e1e" stroke-width="0.8"/>
<circle cx="441.30" cy="521.64" r="2.6" fill="#7d7d7d" stroke="#1e1e1e" stroke-width="0.8"/>
<circle cx="443.80" cy="525.45" r="2.6" fill="#7d7d7d" stroke="#1e1e1e" stroke-width="0.8"/>
<circle cx="438.80" cy="526.18" r="2.6" fill="#7d7d7d" stroke="#1e1e1e" stroke-width="0.8"/>
<line x1="441.30" y1="503.12" x2="441.30" y2="524.73" stroke="#1a1a1a" stroke-width="0.9"/>
<line x1="438.30" y1="503.12" x2="444.30" y2="503.12" stroke="#1a1a1a" stroke-width="0.9"/>
<line x1="438.30" y1="524.73" x2="444.30" y2="524.73" stroke="#1a1a1a" stroke-width="0.9"/>
<line x1="435.80" y1="516.56" x2="446.80" y2="516.56" stroke="#1a1a1a" stroke-width="0.9"/>
<path d="M385.40,474.70 L385.40,470.20 L443.60,470.20 L443.60,474.70" stroke="#1e1e1e" stroke-width="0.9" fill="none"/>
<text x="397.70" y="466.20" font-size="9.2" stroke="#000" stroke-width="0.22"><tspan font-style="italic">P</tspan> = 0.9496</text>
<path d="M385.40,489.00 L385.40,484.10 L426.80,484.10 L426.80,489.00" stroke="#1e1e1e" stroke-width="0.9" fill="none"/>
<text x="386.90" y="481.90" font-size="9.2" stroke="#000" stroke-width="0.22"><tspan font-style="italic">P</tspan> = 0.0003</text>
<circle cx="477.20" cy="422.30" r="3.0" fill="#e3261c" stroke="#333" stroke-width="0.6"/>
<text x="484.70" y="425.60" font-size="9.2" stroke="#000" stroke-width="0.22">TNBS</text>
<circle cx="477.20" cy="439.30" r="3.0" fill="#c9c30a" stroke="#333" stroke-width="0.6"/>
<text x="484.70" y="442.50" font-size="9.2" stroke="#000" stroke-width="0.22">LPH_PG+TNBS</text>
<line x1="480.20" y1="484.70" x2="480.20" y2="579.10" stroke="#333" stroke-width="1.0"/>
<line x1="478.00" y1="485.05" x2="480.20" y2="485.05" stroke="#333" stroke-width="0.9"/>
<text x="477.40" y="488.35" font-size="9.0" text-anchor="end" stroke="#000" stroke-width="0.22">12</text>
<line x1="478.00" y1="505.95" x2="480.20" y2="505.95" stroke="#333" stroke-width="0.9"/>
<text x="477.40" y="509.25" font-size="9.0" text-anchor="end" stroke="#000" stroke-width="0.22">10</text>
<line x1="478.00" y1="526.85" x2="480.20" y2="526.85" stroke="#333" stroke-width="0.9"/>
<text x="477.40" y="530.15" font-size="9.0" text-anchor="end" stroke="#000" stroke-width="0.22">8</text>
<line x1="478.00" y1="547.75" x2="480.20" y2="547.75" stroke="#333" stroke-width="0.9"/>
<text x="477.40" y="551.05" font-size="9.0" text-anchor="end" stroke="#000" stroke-width="0.22">6</text>
<line x1="478.00" y1="568.65" x2="480.20" y2="568.65" stroke="#333" stroke-width="0.9"/>
<text x="477.40" y="571.95" font-size="9.0" text-anchor="end" stroke="#000" stroke-width="0.22">4</text>
<line x1="480.20" y1="579.10" x2="564.40" y2="579.10" stroke="#333" stroke-width="1.0"/>
<line x1="489.40" y1="579.10" x2="489.40" y2="581.90" stroke="#333" stroke-width="0.8"/>
<line x1="502.10" y1="579.10" x2="502.10" y2="581.90" stroke="#333" stroke-width="0.8"/>
<line x1="515.70" y1="579.10" x2="515.70" y2="581.90" stroke="#333" stroke-width="0.8"/>
<line x1="528.60" y1="579.10" x2="528.60" y2="581.90" stroke="#333" stroke-width="0.8"/>
<line x1="541.90" y1="579.10" x2="541.90" y2="581.90" stroke="#333" stroke-width="0.8"/>
<line x1="555.10" y1="579.10" x2="555.10" y2="581.90" stroke="#333" stroke-width="0.8"/>
<text x="462.20" y="531.40" font-size="10.0" text-anchor="middle" transform="rotate(-90 462.20 531.40)" stroke="#000" stroke-width="0.22" dominant-baseline="central">Colon length (cm)</text>
<circle cx="491.90" cy="509.92" r="2.6" fill="#d6d6d6" stroke="#1e1e1e" stroke-width="0.8"/>
<circle cx="488.40" cy="512.95" r="2.6" fill="#d6d6d6" stroke="#1e1e1e" stroke-width="0.8"/>
<circle cx="486.90" cy="517.97" r="2.6" fill="#d6d6d6" stroke="#1e1e1e" stroke-width="0.8"/>
<circle cx="491.90" cy="520.79" r="2.6" fill="#d6d6d6" stroke="#1e1e1e" stroke-width="0.8"/>
<circle cx="486.90" cy="522.15" r="2.6" fill="#d6d6d6" stroke="#1e1e1e" stroke-width="0.8"/>
<circle cx="489.40" cy="527.89" r="2.6" fill="#d6d6d6" stroke="#1e1e1e" stroke-width="0.8"/>
<line x1="489.40" y1="514.83" x2="489.40" y2="524.76" stroke="#1a1a1a" stroke-width="0.9"/>
<line x1="486.40" y1="514.83" x2="492.40" y2="514.83" stroke="#1a1a1a" stroke-width="0.9"/>
<line x1="486.40" y1="524.76" x2="492.40" y2="524.76" stroke="#1a1a1a" stroke-width="0.9"/>
<line x1="483.90" y1="519.85" x2="494.90" y2="519.85" stroke="#1a1a1a" stroke-width="0.9"/>
<circle cx="502.10" cy="550.88" r="2.6" fill="#e3261c" stroke="#1e1e1e" stroke-width="0.8"/>
<circle cx="504.60" cy="551.93" r="2.6" fill="#e3261c" stroke="#1e1e1e" stroke-width="0.8"/>
<circle cx="502.10" cy="556.84" r="2.6" fill="#e3261c" stroke="#1e1e1e" stroke-width="0.8"/>
<circle cx="499.60" cy="558.93" r="2.6" fill="#e3261c" stroke="#1e1e1e" stroke-width="0.8"/>
<circle cx="504.60" cy="560.81" r="2.6" fill="#e3261c" stroke="#1e1e1e" stroke-width="0.8"/>
<circle cx="500.60" cy="561.86" r="2.6" fill="#e3261c" stroke="#1e1e1e" stroke-width="0.8"/>
<line x1="502.10" y1="553.50" x2="502.10" y2="560.29" stroke="#1a1a1a" stroke-width="0.9"/>
<line x1="499.10" y1="553.50" x2="505.10" y2="553.50" stroke="#1a1a1a" stroke-width="0.9"/>
<line x1="499.10" y1="560.29" x2="505.10" y2="560.29" stroke="#1a1a1a" stroke-width="0.9"/>
<line x1="496.60" y1="556.84" x2="507.60" y2="556.84" stroke="#1a1a1a" stroke-width="0.9"/>
<circle cx="515.20" cy="523.82" r="2.6" fill="#3b6fc2" stroke="#1e1e1e" stroke-width="0.8"/>
<circle cx="517.20" cy="528.94" r="2.6" fill="#3b6fc2" stroke="#1e1e1e" stroke-width="0.8"/>
<circle cx="518.20" cy="538.87" r="2.6" fill="#3b6fc2" stroke="#1e1e1e" stroke-width="0.8"/>
<circle cx="513.20" cy="540.96" r="2.6" fill="#3b6fc2" stroke="#1e1e1e" stroke-width="0.8"/>
<circle cx="513.20" cy="548.80" r="2.6" fill="#3b6fc2" stroke="#1e1e1e" stroke-width="0.8"/>
<circle cx="518.20" cy="548.80" r="2.6" fill="#3b6fc2" stroke="#1e1e1e" stroke-width="0.8"/>
<line x1="515.70" y1="529.78" x2="515.70" y2="548.80" stroke="#1a1a1a" stroke-width="0.9"/>
<line x1="512.70" y1="529.78" x2="518.70" y2="529.78" stroke="#1a1a1a" stroke-width="0.9"/>
<line x1="512.70" y1="548.80" x2="518.70" y2="548.80" stroke="#1a1a1a" stroke-width="0.9"/>
<line x1="510.20" y1="539.60" x2="521.20" y2="539.60" stroke="#1a1a1a" stroke-width="0.9"/>
<circle cx="529.60" cy="545.76" r="2.6" fill="#8b2bb8" stroke="#1e1e1e" stroke-width="0.8"/>
<circle cx="526.10" cy="548.80" r="2.6" fill="#8b2bb8" stroke="#1e1e1e" stroke-width="0.8"/>
<circle cx="531.10" cy="551.93" r="2.6" fill="#8b2bb8" stroke="#1e1e1e" stroke-width="0.8"/>
<circle cx="526.10" cy="553.81" r="2.6" fill="#8b2bb8" stroke="#1e1e1e" stroke-width="0.8"/>
<circle cx="528.60" cy="558.93" r="2.6" fill="#8b2bb8" stroke="#1e1e1e" stroke-width="0.8"/>
<circle cx="526.60" cy="561.86" r="2.6" fill="#8b2bb8" stroke="#1e1e1e" stroke-width="0.8"/>
<line x1="528.60" y1="548.27" x2="528.60" y2="558.20" stroke="#1a1a1a" stroke-width="0.9"/>
<line x1="525.60" y1="548.27" x2="531.60" y2="548.27" stroke="#1a1a1a" stroke-width="0.9"/>
<line x1="525.60" y1="558.20" x2="531.60" y2="558.20" stroke="#1a1a1a" stroke-width="0.9"/>
<line x1="523.10" y1="553.50" x2="534.10" y2="553.50" stroke="#1a1a1a" stroke-width="0.9"/>
<circle cx="541.90" cy="520.27" r="2.6" fill="#c9c30a" stroke="#1e1e1e" stroke-width="0.8"/>
<circle cx="541.90" cy="529.46" r="2.6" fill="#c9c30a" stroke="#1e1e1e" stroke-width="0.8"/>
<circle cx="539.40" cy="532.91" r="2.6" fill="#c9c30a" stroke="#1e1e1e" stroke-width="0.8"/>
<circle cx="544.40" cy="534.90" r="2.6" fill="#c9c30a" stroke="#1e1e1e" stroke-width="0.8"/>
<circle cx="541.90" cy="538.35" r="2.6" fill="#c9c30a" stroke="#1e1e1e" stroke-width="0.8"/>
<circle cx="541.90" cy="548.80" r="2.6" fill="#c9c30a" stroke="#1e1e1e" stroke-width="0.8"/>
<line x1="541.90" y1="525.49" x2="541.90" y2="544.62" stroke="#1a1a1a" stroke-width="0.9"/>
<line x1="538.90" y1="525.49" x2="544.90" y2="525.49" stroke="#1a1a1a" stroke-width="0.9"/>
<line x1="538.90" y1="544.62" x2="544.90" y2="544.62" stroke="#1a1a1a" stroke-width="0.9"/>
<line x1="536.40" y1="534.90" x2="547.40" y2="534.90" stroke="#1a1a1a" stroke-width="0.9"/>
<circle cx="555.10" cy="544.72" r="2.6" fill="#7d7d7d" stroke="#1e1e1e" stroke-width="0.8"/>
<circle cx="554.10" cy="550.68" r="2.6" fill="#7d7d7d" stroke="#1e1e1e" stroke-width="0.8"/>
<circle cx="555.10" cy="557.68" r="2.6" fill="#7d7d7d" stroke="#1e1e1e" stroke-width="0.8"/>
<circle cx="552.60" cy="564.68" r="2.6" fill="#7d7d7d" stroke="#1e1e1e" stroke-width="0.8"/>
<circle cx="552.60" cy="569.70" r="2.6" fill="#7d7d7d" stroke="#1e1e1e" stroke-width="0.8"/>
<circle cx="553.10" cy="574.08" r="2.6" fill="#7d7d7d" stroke="#1e1e1e" stroke-width="0.8"/>
<line x1="555.10" y1="550.88" x2="555.10" y2="571.78" stroke="#1a1a1a" stroke-width="0.9"/>
<line x1="552.10" y1="550.88" x2="558.10" y2="550.88" stroke="#1a1a1a" stroke-width="0.9"/>
<line x1="552.10" y1="571.78" x2="558.10" y2="571.78" stroke="#1a1a1a" stroke-width="0.9"/>
<line x1="549.60" y1="561.34" x2="560.60" y2="561.34" stroke="#1a1a1a" stroke-width="0.9"/>
<path d="M501.70,495.90 L501.70,491.90 L556.50,491.90 L556.50,495.90" stroke="#1e1e1e" stroke-width="0.9" fill="none"/>
<text x="513.70" y="486.90" font-size="8.6" stroke="#000" stroke-width="0.22"><tspan font-style="italic">P</tspan> = 0.9501</text>
<path d="M501.70,508.80 L501.70,504.80 L541.50,504.80 L541.50,508.80" stroke="#1e1e1e" stroke-width="0.9" fill="none"/>
<text x="505.70" y="499.90" font-size="8.6" stroke="#000" stroke-width="0.22"><tspan font-style="italic">P</tspan> = 0.0066</text>
<circle cx="590.10" cy="422.30" r="3.0" fill="#3b6fc2" stroke="#333" stroke-width="0.6"/>
<text x="596.30" y="425.60" font-size="9.2" stroke="#000" stroke-width="0.22">LPH+TNBS</text>
<circle cx="590.10" cy="439.10" r="3.0" fill="#7d7d7d" stroke="#333" stroke-width="0.6"/>
<text x="597.10" y="442.50" font-size="9.2" stroke="#000" stroke-width="0.22">LPH-3D_PG+TNBS</text>
<line x1="596.40" y1="493.30" x2="596.40" y2="579.10" stroke="#333" stroke-width="1.0"/>
<line x1="594.20" y1="493.50" x2="596.40" y2="493.50" stroke="#333" stroke-width="0.9"/>
<text x="594.60" y="496.80" font-size="9.0" text-anchor="end" stroke="#000" stroke-width="0.22">20</text>
<line x1="594.20" y1="514.90" x2="596.40" y2="514.90" stroke="#333" stroke-width="0.9"/>
<text x="594.60" y="518.20" font-size="9.0" text-anchor="end" stroke="#000" stroke-width="0.22">15</text>
<line x1="594.20" y1="536.30" x2="596.40" y2="536.30" stroke="#333" stroke-width="0.9"/>
<text x="594.60" y="539.60" font-size="9.0" text-anchor="end" stroke="#000" stroke-width="0.22">10</text>
<line x1="594.20" y1="557.70" x2="596.40" y2="557.70" stroke="#333" stroke-width="0.9"/>
<text x="594.60" y="561.00" font-size="9.0" text-anchor="end" stroke="#000" stroke-width="0.22">5</text>
<line x1="594.20" y1="579.10" x2="596.40" y2="579.10" stroke="#333" stroke-width="0.9"/>
<text x="594.60" y="582.40" font-size="9.0" text-anchor="end" stroke="#000" stroke-width="0.22">0</text>
<line x1="596.40" y1="579.10" x2="678.40" y2="579.10" stroke="#333" stroke-width="1.0"/>
<line x1="604.80" y1="579.10" x2="604.80" y2="581.90" stroke="#333" stroke-width="0.8"/>
<line x1="617.70" y1="579.10" x2="617.70" y2="581.90" stroke="#333" stroke-width="0.8"/>
<line x1="630.70" y1="579.10" x2="630.70" y2="581.90" stroke="#333" stroke-width="0.8"/>
<line x1="643.60" y1="579.10" x2="643.60" y2="581.90" stroke="#333" stroke-width="0.8"/>
<line x1="656.50" y1="579.10" x2="656.50" y2="581.90" stroke="#333" stroke-width="0.8"/>
<line x1="669.50" y1="579.10" x2="669.50" y2="581.90" stroke="#333" stroke-width="0.8"/>
<text x="577.50" y="534.20" font-size="9.35" text-anchor="middle" transform="rotate(-90 577.50 534.20)" stroke="#000" stroke-width="0.22" dominant-baseline="central">FITC-dextran (µg/ml)</text>
<circle cx="606.80" cy="546.57" r="2.6" fill="#d6d6d6" stroke="#1e1e1e" stroke-width="0.8"/>
<circle cx="602.30" cy="551.71" r="2.6" fill="#d6d6d6" stroke="#1e1e1e" stroke-width="0.8"/>
<circle cx="604.80" cy="555.13" r="2.6" fill="#d6d6d6" stroke="#1e1e1e" stroke-width="0.8"/>
<circle cx="607.30" cy="558.56" r="2.6" fill="#d6d6d6" stroke="#1e1e1e" stroke-width="0.8"/>
<circle cx="602.30" cy="562.41" r="2.6" fill="#d6d6d6" stroke="#1e1e1e" stroke-width="0.8"/>
<circle cx="606.30" cy="563.69" r="2.6" fill="#d6d6d6" stroke="#1e1e1e" stroke-width="0.8"/>
<line x1="604.80" y1="551.71" x2="604.80" y2="561.98" stroke="#1a1a1a" stroke-width="0.9"/>
<line x1="601.80" y1="551.71" x2="607.80" y2="551.71" stroke="#1a1a1a" stroke-width="0.9"/>
<line x1="601.80" y1="561.98" x2="607.80" y2="561.98" stroke="#1a1a1a" stroke-width="0.9"/>
<line x1="599.30" y1="556.84" x2="610.30" y2="556.84" stroke="#1a1a1a" stroke-width="0.9"/>
<circle cx="620.20" cy="511.48" r="2.6" fill="#e3261c" stroke="#1e1e1e" stroke-width="0.8"/>
<circle cx="615.20" cy="513.83" r="2.6" fill="#e3261c" stroke="#1e1e1e" stroke-width="0.8"/>
<circle cx="620.20" cy="516.61" r="2.6" fill="#e3261c" stroke="#1e1e1e" stroke-width="0.8"/>
<circle cx="615.70" cy="519.61" r="2.6" fill="#e3261c" stroke="#1e1e1e" stroke-width="0.8"/>
<circle cx="615.70" cy="534.59" r="2.6" fill="#e3261c" stroke="#1e1e1e" stroke-width="0.8"/>
<circle cx="618.70" cy="536.00" r="2.6" fill="#e3261c" stroke="#1e1e1e" stroke-width="0.8"/>
<line x1="617.70" y1="512.76" x2="617.70" y2="534.59" stroke="#1a1a1a" stroke-width="0.9"/>
<line x1="614.70" y1="512.76" x2="620.70" y2="512.76" stroke="#1a1a1a" stroke-width="0.9"/>
<line x1="614.70" y1="534.59" x2="620.70" y2="534.59" stroke="#1a1a1a" stroke-width="0.9"/>
<line x1="612.20" y1="522.18" x2="623.20" y2="522.18" stroke="#1a1a1a" stroke-width="0.9"/>
<circle cx="632.20" cy="531.59" r="2.6" fill="#3b6fc2" stroke="#1e1e1e" stroke-width="0.8"/>
<circle cx="628.20" cy="535.44" r="2.6" fill="#3b6fc2" stroke="#1e1e1e" stroke-width="0.8"/>
<circle cx="633.20" cy="539.30" r="2.6" fill="#3b6fc2" stroke="#1e1e1e" stroke-width="0.8"/>
<circle cx="630.70" cy="545.72" r="2.6" fill="#3b6fc2" stroke="#1e1e1e" stroke-width="0.8"/>
<circle cx="630.70" cy="553.42" r="2.6" fill="#3b6fc2" stroke="#1e1e1e" stroke-width="0.8"/>
<circle cx="630.70" cy="560.01" r="2.6" fill="#3b6fc2" stroke="#1e1e1e" stroke-width="0.8"/>
<line x1="630.70" y1="533.73" x2="630.70" y2="553.42" stroke="#1a1a1a" stroke-width="0.9"/>
<line x1="627.70" y1="533.73" x2="633.70" y2="533.73" stroke="#1a1a1a" stroke-width="0.9"/>
<line x1="627.70" y1="553.42" x2="633.70" y2="553.42" stroke="#1a1a1a" stroke-width="0.9"/>
<line x1="625.20" y1="543.15" x2="636.20" y2="543.15" stroke="#1a1a1a" stroke-width="0.9"/>
<circle cx="643.60" cy="514.90" r="2.6" fill="#8b2bb8" stroke="#1e1e1e" stroke-width="0.8"/>
<circle cx="643.60" cy="520.89" r="2.6" fill="#8b2bb8" stroke="#1e1e1e" stroke-width="0.8"/>
<circle cx="641.10" cy="525.60" r="2.6" fill="#8b2bb8" stroke="#1e1e1e" stroke-width="0.8"/>
<circle cx="646.10" cy="527.74" r="2.6" fill="#8b2bb8" stroke="#1e1e1e" stroke-width="0.8"/>
<circle cx="643.60" cy="529.88" r="2.6" fill="#8b2bb8" stroke="#1e1e1e" stroke-width="0.8"/>
<circle cx="641.60" cy="534.59" r="2.6" fill="#8b2bb8" stroke="#1e1e1e" stroke-width="0.8"/>
<line x1="643.60" y1="520.89" x2="643.60" y2="532.88" stroke="#1a1a1a" stroke-width="0.9"/>
<line x1="640.60" y1="520.89" x2="646.60" y2="520.89" stroke="#1a1a1a" stroke-width="0.9"/>
<line x1="640.60" y1="532.88" x2="646.60" y2="532.88" stroke="#1a1a1a" stroke-width="0.9"/>
<line x1="638.10" y1="526.88" x2="649.10" y2="526.88" stroke="#1a1a1a" stroke-width="0.9"/>
<circle cx="656.50" cy="530.31" r="2.6" fill="#c9c30a" stroke="#1e1e1e" stroke-width="0.8"/>
<circle cx="654.00" cy="532.88" r="2.6" fill="#c9c30a" stroke="#1e1e1e" stroke-width="0.8"/>
<circle cx="659.00" cy="539.30" r="2.6" fill="#c9c30a" stroke="#1e1e1e" stroke-width="0.8"/>
<circle cx="654.00" cy="541.65" r="2.6" fill="#c9c30a" stroke="#1e1e1e" stroke-width="0.8"/>
<circle cx="656.50" cy="544.65" r="2.6" fill="#c9c30a" stroke="#1e1e1e" stroke-width="0.8"/>
<circle cx="656.50" cy="549.57" r="2.6" fill="#c9c30a" stroke="#1e1e1e" stroke-width="0.8"/>
<line x1="656.50" y1="533.73" x2="656.50" y2="545.72" stroke="#1a1a1a" stroke-width="0.9"/>
<line x1="653.50" y1="533.73" x2="659.50" y2="533.73" stroke="#1a1a1a" stroke-width="0.9"/>
<line x1="653.50" y1="545.72" x2="659.50" y2="545.72" stroke="#1a1a1a" stroke-width="0.9"/>
<line x1="651.00" y1="540.15" x2="662.00" y2="540.15" stroke="#1a1a1a" stroke-width="0.9"/>
<circle cx="669.50" cy="518.75" r="2.6" fill="#7d7d7d" stroke="#1e1e1e" stroke-width="0.8"/>
<circle cx="667.00" cy="520.89" r="2.6" fill="#7d7d7d" stroke="#1e1e1e" stroke-width="0.8"/>
<circle cx="672.00" cy="523.46" r="2.6" fill="#7d7d7d" stroke="#1e1e1e" stroke-width="0.8"/>
<circle cx="667.00" cy="525.39" r="2.6" fill="#7d7d7d" stroke="#1e1e1e" stroke-width="0.8"/>
<circle cx="672.00" cy="528.81" r="2.6" fill="#7d7d7d" stroke="#1e1e1e" stroke-width="0.8"/>
<circle cx="667.50" cy="533.30" r="2.6" fill="#7d7d7d" stroke="#1e1e1e" stroke-width="0.8"/>
<line x1="669.50" y1="520.46" x2="669.50" y2="529.02" stroke="#1a1a1a" stroke-width="0.9"/>
<line x1="666.50" y1="520.46" x2="672.50" y2="520.46" stroke="#1a1a1a" stroke-width="0.9"/>
<line x1="666.50" y1="529.02" x2="672.50" y2="529.02" stroke="#1a1a1a" stroke-width="0.9"/>
<line x1="664.00" y1="523.89" x2="675.00" y2="523.89" stroke="#1a1a1a" stroke-width="0.9"/>
<path d="M617.10,490.50 L617.10,486.90 L668.10,486.90 L668.10,490.50" stroke="#1e1e1e" stroke-width="0.9" fill="none"/>
<text x="624.30" y="483.90" font-size="9.1" stroke="#000" stroke-width="0.22"><tspan font-style="italic">P</tspan> = 0.7745</text>
<path d="M617.10,504.80 L617.10,500.80 L656.10,500.80 L656.10,504.80" stroke="#1e1e1e" stroke-width="0.9" fill="none"/>
<text x="618.30" y="497.90" font-size="9.2" stroke="#000" stroke-width="0.22"><tspan font-style="italic">P</tspan> = 0.0004</text>
</svg></body></html>
